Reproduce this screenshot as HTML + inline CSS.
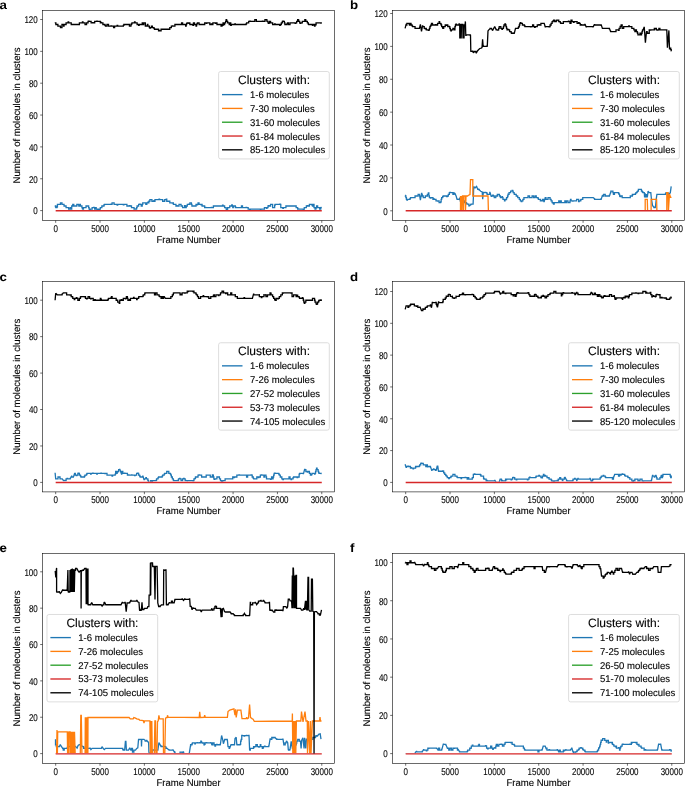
<!DOCTYPE html>
<html><head><meta charset="utf-8"><style>
html,body{margin:0;padding:0;background:#fff;}
svg{display:block;}
text{font-family:"Liberation Sans", sans-serif;fill:#000;filter:grayscale(1);text-rendering:geometricPrecision;stroke:#000;stroke-width:0.12px;stroke-linejoin:round;}
text.tk{stroke-width:0.1px;}
text.pl{stroke-width:0;}
</style></head><body>
<svg width="685" height="786" viewBox="0 0 685 786">
<rect x="0" y="0" width="685" height="786" fill="#fff"/>
<g><clipPath id="clipa"><rect x="42.48" y="10.55" width="292.02" height="199.53"/></clipPath><g clip-path="url(#clipa)"><polyline points="55.1,207.3 55.38,207.3 55.38,206.02 55.9,206.02 55.9,207.62 56.95,207.62 56.95,206.79 57.2,206.79 57.45,206.79 57.45,204.43 60.45,204.43 60.45,202.84 60.95,202.84 60.95,203.2 61.2,203.2 61.46,203.2 61.46,202.84 61.98,202.84 61.98,204.43 64.03,204.43 64.03,206.02 65.05,206.02 65.05,206.2 65.3,206.2 65.56,206.2 65.56,206.02 66.08,206.02 66.08,207.62 68.64,207.62 68.64,209.21 69.15,209.21 69.15,208.9 69.4,208.9 69.67,208.9 69.67,209.21 70.18,209.21 70.18,207.62 70.7,207.62 70.7,209.21 71.73,209.21 71.73,206.02 72.25,206.02 72.25,206.2 72.5,206.2 72.76,206.2 72.76,204.43 73.78,204.43 73.78,206.02 76.82,206.02 76.82,204.43 78.35,204.43 78.35,204.8 78.6,204.8 78.86,204.8 78.86,206.02 79.89,206.02 79.89,204.43 80.4,204.43 80.4,206.02 81.94,206.02 81.94,207.62 82.45,207.62 82.45,208.9 82.7,208.9 82.96,208.9 82.96,209.21 83.47,209.21 83.47,207.62 86.04,207.62 86.04,206.02 86.55,206.02 86.55,206.2 86.8,206.2 87.07,206.2 87.07,206.02 88.62,206.02 88.62,207.62 89.13,207.62 89.13,209.21 89.65,209.21 89.65,209.7 89.9,209.7 90.15,209.7 90.15,209.21 92.15,209.21 92.15,207.62 93.65,207.62 93.65,207.3 93.9,207.3 94.16,207.3 94.16,207.62 94.67,207.62 94.67,209.21 95.69,209.21 95.69,207.62 96.2,207.62 96.2,209.21 97.22,209.21 97.22,210.8 98.24,210.8 98.24,209.21 98.75,209.21 98.75,209.7 99,209.7 99.27,209.7 99.27,209.21 100.31,209.21 100.31,207.62 101.87,207.62 101.87,206.02 103.95,206.02 103.95,204.8 104.2,204.8 104.46,204.8 104.46,204.43 111.05,204.43 111.05,204.2 111.3,204.2 111.56,204.2 111.56,204.43 112.07,204.43 112.07,202.84 114.1,202.84 114.1,204.43 117.15,204.43 117.15,205.2 117.4,205.2 117.67,205.2 117.67,204.43 123.35,204.43 123.35,204.8 123.6,204.8 123.86,204.8 123.86,204.43 126.91,204.43 126.91,206.02 129.45,206.02 129.45,205.6 129.7,205.6 129.96,205.6 129.96,206.02 131.49,206.02 131.49,207.62 134.04,207.62 134.04,209.21 134.55,209.21 134.55,208.9 134.8,208.9 135.06,208.9 135.06,209.21 136.59,209.21 136.59,207.62 137.1,207.62 137.1,206.02 138.63,206.02 138.63,204.43 139.65,204.43 139.65,204.2 139.9,204.2 140.16,204.2 140.16,204.43 141.19,204.43 141.19,206.02 142.21,206.02 142.21,204.43 142.72,204.43 142.72,202.84 145.8,202.84 145.8,204.43 146.82,204.43 146.82,202.84 147.85,202.84 147.85,202.2 148.1,202.2 148.36,202.2 148.36,202.84 148.87,202.84 148.87,201.25 149.88,201.25 149.88,199.65 151.92,199.65 151.92,201.25 153.95,201.25 153.95,200.7 154.2,200.7 154.46,200.7 154.46,201.25 154.97,201.25 154.97,199.65 159.05,199.65 159.05,199.1 159.3,199.1 159.56,199.1 159.56,199.65 162.65,199.65 162.65,201.25 164.71,201.25 164.71,199.65 166.25,199.65 166.25,199.11 166.5,199.11 166.76,199.11 166.76,201.25 169.81,201.25 169.81,202.84 172.35,202.84 172.35,203.2 172.6,203.2 172.86,203.2 172.86,202.84 173.38,202.84 173.38,204.43 175.94,204.43 175.94,206.02 176.45,206.02 176.45,205.6 176.7,205.6 176.96,205.6 176.96,206.02 179.01,206.02 179.01,204.43 181.06,204.43 181.06,206.02 182.6,206.02 182.6,207.62 184.65,207.62 184.65,205.6 184.9,205.6 185.18,205.6 185.18,207.62 186.22,207.62 186.22,206.02 187.28,206.02 187.28,204.43 188.85,204.43 188.85,204.2 189.1,204.2 189.36,204.2 189.36,204.43 189.88,204.43 189.88,202.84 191.41,202.84 191.41,204.43 191.92,204.43 191.92,206.02 192.95,206.02 192.95,206.2 193.2,206.2 193.46,206.2 193.46,206.02 196.03,206.02 196.03,204.43 197.05,204.43 197.05,204.8 197.3,204.8 197.55,204.8 197.55,204.43 198.05,204.43 198.05,202.84 199.05,202.84 199.05,204.43 201.05,204.43 201.05,204.8 201.3,204.8 201.56,204.8 201.56,204.43 202.08,204.43 202.08,206.02 204.64,206.02 204.64,207.62 205.15,207.62 205.15,207.3 205.4,207.3 205.67,207.3 205.67,207.62 211.35,207.62 211.35,207.3 211.6,207.3 211.86,207.3 211.86,207.62 213.4,207.62 213.4,206.02 215.45,206.02 215.45,206.2 215.7,206.2 215.96,206.2 215.96,206.02 222.55,206.02 222.55,205.2 222.8,205.2 223.06,205.2 223.06,206.02 224.6,206.02 224.6,207.62 226.14,207.62 226.14,209.21 226.65,209.21 226.65,209.3 226.9,209.3 227.16,209.3 227.16,209.21 227.67,209.21 227.67,207.62 229.71,207.62 229.71,206.02 231.75,206.02 231.75,204.8 232,204.8 232.26,204.8 232.26,206.02 232.78,206.02 232.78,207.62 233.29,207.62 233.29,206.02 235.34,206.02 235.34,207.62 235.85,207.62 235.85,207.3 236.1,207.3 236.36,207.3 236.36,207.62 241.46,207.62 241.46,206.02 242.48,206.02 242.48,207.62 246.05,207.62 246.05,207.3 246.3,207.3 246.58,207.3 246.58,207.62 248.16,207.62 248.16,209.21 249.75,209.21 249.75,209.3 250,209.3 250.25,209.3 250.25,209.21 260.35,209.21 260.35,209.3 260.6,209.3 260.86,209.3 260.86,209.21 264.42,209.21 264.42,207.62 266.45,207.62 266.45,208.3 266.7,208.3 266.98,208.3 266.98,207.62 268.02,207.62 268.02,206.02 268.55,206.02 268.55,205.6 268.8,205.6 269.06,205.6 269.06,206.02 270.58,206.02 270.58,204.43 272.62,204.43 272.62,207.62 274.65,207.62 274.65,205.2 274.9,205.2 275.16,205.2 275.16,204.43 279.75,204.43 279.75,204.2 280,204.2 280.27,204.2 280.27,204.43 280.78,204.43 280.78,207.62 282.85,207.62 282.85,208.3 283.1,208.3 283.36,208.3 283.36,207.62 285.93,207.62 285.93,206.02 286.95,206.02 286.95,206.2 287.2,206.2 287.46,206.2 287.46,206.02 295.15,206.02 295.15,206.2 295.4,206.2 295.65,206.2 295.65,206.02 296.15,206.02 296.15,207.62 297.65,207.62 297.65,209.21 298.15,209.21 298.15,208.9 298.4,208.9 298.66,208.9 298.66,209.21 303.25,209.21 303.25,209.3 303.5,209.3 303.76,209.3 303.76,209.21 304.27,209.21 304.27,207.62 306.33,207.62 306.33,206.02 307.35,206.02 307.35,205.6 307.6,205.6 307.86,205.6 307.86,206.02 309.4,206.02 309.4,204.43 311.45,204.43 311.45,204.8 311.7,204.8 311.96,204.8 311.96,204.43 312.48,204.43 312.48,206.02 312.99,206.02 312.99,204.43 314.01,204.43 314.01,207.62 315.04,207.62 315.04,209.21 315.55,209.21 315.55,208.89 315.8,208.89 316.07,208.89 316.07,207.62 316.59,207.62 316.59,206.02 317.62,206.02 317.62,207.62 319.7,207.62 319.7,209.21 320.73,209.21 320.73,207.62 321.25,207.62 321.25,207.3 321.5,207.3" fill="none" stroke="#1f77b4" stroke-width="1.3" stroke-linejoin="miter" stroke-miterlimit="2" stroke-linecap="butt"/></g><polyline points="55.68,210.8 321.78,210.8" fill="none" stroke="#d62728" stroke-width="1.45" stroke-linejoin="miter" stroke-miterlimit="2" stroke-linecap="butt"/><polyline points="55.1,23.3 55.36,23.3 55.36,22.89 55.87,22.89 55.87,24.48 57.9,24.48 57.9,26.07 60.44,26.07 60.44,27.66 60.95,27.66 60.95,27.4 61.2,27.4 61.46,27.4 61.46,27.66 61.98,27.66 61.98,24.48 63.52,24.48 63.52,26.07 64.04,26.07 64.04,24.48 66.09,24.48 66.09,22.89 68.15,22.89 68.15,21.9 68.4,21.9 68.66,21.9 68.66,22.89 71.22,22.89 71.22,24.48 72.25,24.48 72.25,24.3 72.5,24.3 72.76,24.3 72.76,24.48 77.35,24.48 77.35,24.7 77.6,24.7 77.86,24.7 77.86,24.48 79.39,24.48 79.39,22.89 82.45,22.89 82.45,21.9 82.7,21.9 82.97,21.9 82.97,22.89 85.03,22.89 85.03,24.48 85.55,24.48 85.55,24.3 85.8,24.3 86.05,24.3 86.05,24.48 86.55,24.48 86.55,22.89 88.05,22.89 88.05,21.29 88.55,21.29 88.55,21.2 88.8,21.2 89.06,21.2 89.06,21.29 91.11,21.29 91.11,22.89 92.65,22.89 92.65,22.7 92.9,22.7 93.16,22.7 93.16,22.89 94.7,22.89 94.7,21.29 96.75,21.29 96.75,21.2 97,21.2 97.26,21.2 97.26,21.29 100.34,21.29 100.34,22.89 100.85,22.89 100.85,22.3 101.1,22.3 101.36,22.3 101.36,22.89 102.9,22.89 102.9,24.48 104.95,24.48 104.95,25.3 105.2,25.3 105.46,25.3 105.46,26.07 106.98,26.07 106.98,24.48 108.51,24.48 108.51,26.07 111.05,26.07 111.05,25.9 111.3,25.9 111.56,25.9 111.56,26.07 113.59,26.07 113.59,27.66 114.61,27.66 114.61,26.07 117.15,26.07 117.15,25.3 117.4,25.3 117.67,25.3 117.67,26.07 123.35,26.07 123.35,25.3 123.6,25.3 123.86,25.3 123.86,24.48 129.42,24.48 129.42,26.07 130.94,26.07 130.94,24.48 131.45,24.48 131.45,23.9 131.7,23.9 131.97,23.9 131.97,22.89 134.55,22.89 134.55,21.9 134.8,21.9 135.06,21.9 135.06,22.89 137.11,22.89 137.11,24.48 138.65,24.48 138.65,25.3 138.9,25.3 139.16,25.3 139.16,24.48 142.24,24.48 142.24,22.89 142.75,22.89 142.75,23.3 143,23.3 143.27,23.3 143.27,24.48 143.78,24.48 143.78,22.89 145.33,22.89 145.33,26.07 145.85,26.07 145.85,25.9 146.1,25.9 146.35,25.9 146.35,26.07 147.35,26.07 147.35,24.48 147.85,24.48 147.85,26.07 149.35,26.07 149.35,27.66 149.85,27.66 149.85,28 150.1,28 150.36,28 150.36,27.66 151.39,27.66 151.39,26.07 152.41,26.07 152.41,27.66 153.95,27.66 153.95,28.4 154.2,28.4 154.46,28.4 154.46,29.25 158.54,29.25 158.54,30.85 159.05,30.85 159.05,30.4 159.3,30.4 159.56,30.4 159.56,30.85 161.09,30.85 161.09,29.25 164.15,29.25 164.15,29.4 164.4,29.4 164.66,29.4 164.66,29.25 168.25,29.25 168.25,29.4 168.5,29.4 168.76,29.4 168.76,29.25 169.79,29.25 169.79,27.66 171.32,27.66 171.32,26.07 172.35,26.07 172.35,25.9 172.6,25.9 172.86,25.9 172.86,26.07 174.91,26.07 174.91,24.48 176.45,24.48 176.45,24.7 176.7,24.7 176.96,24.7 176.96,24.48 181.57,24.48 181.57,22.89 182.6,22.89 182.6,24.48 184.65,24.48 184.65,24.7 184.9,24.7 185.15,24.7 185.15,24.48 185.65,24.48 185.65,26.07 186.15,26.07 186.15,24.48 186.65,24.48 186.65,23.3 186.9,23.3 187.2,23.3 187.2,22.89 188.85,22.89 188.85,23.3 189.1,23.3 189.36,23.3 189.36,22.89 189.88,22.89 189.88,24.48 192.95,24.48 192.95,25.3 193.2,25.3 193.46,25.3 193.46,22.89 194.49,22.89 194.49,24.48 196.03,24.48 196.03,26.07 196.54,26.07 196.54,24.48 197.05,24.48 197.05,23.3 197.3,23.3 197.56,23.3 197.56,22.89 199.09,22.89 199.09,24.48 202.15,24.48 202.15,24.3 202.4,24.3 202.66,24.3 202.66,24.48 204.71,24.48 204.71,22.89 206.25,22.89 206.25,23.3 206.5,23.3 206.76,23.3 206.76,22.89 209.82,22.89 209.82,24.48 211.35,24.48 211.35,23.9 211.6,23.9 211.86,23.9 211.86,24.48 212.89,24.48 212.89,22.89 215.45,22.89 215.45,23.3 215.7,23.3 215.96,23.3 215.96,22.89 216.97,22.89 216.97,24.48 221.03,24.48 221.03,26.07 222.04,26.07 222.04,24.48 222.55,24.48 222.55,25.3 222.8,25.3 223.06,25.3 223.06,22.89 224.09,22.89 224.09,24.48 224.6,24.48 224.6,22.89 225.62,22.89 225.62,21.29 226.14,21.29 226.14,19.7 226.65,19.7 226.65,21.2 226.9,21.2 227.16,21.2 227.16,21.29 227.68,21.29 227.68,22.89 229.21,22.89 229.21,24.48 229.72,24.48 229.72,22.89 230.75,22.89 230.75,25.3 231,25.3 231.26,25.3 231.26,24.48 234.85,24.48 234.85,23.9 235.1,23.9 235.36,23.9 235.36,24.48 246.05,24.48 246.05,23.9 246.3,23.9 246.58,23.9 246.58,22.89 248.69,22.89 248.69,21.29 249.75,21.29 249.75,21.2 250,21.2 250.26,21.2 250.26,21.29 254.83,21.29 254.83,19.7 256.35,19.7 256.35,21.29 262.45,21.29 262.45,21.2 262.7,21.2 262.95,21.2 262.95,21.29 264.95,21.29 264.95,19.7 266.45,19.7 266.45,19.8 266.7,19.8 266.98,19.8 266.98,21.29 268.02,21.29 268.02,22.89 268.55,22.89 268.55,23.3 268.8,23.3 269.06,23.3 269.06,22.89 269.57,22.89 269.57,21.29 270.58,21.29 270.58,22.89 272.62,22.89 272.62,24.48 274.65,24.48 274.65,23.9 274.9,23.9 275.16,23.9 275.16,24.48 279.75,24.48 279.75,25.3 280,25.3 280.27,25.3 280.27,24.48 281.3,24.48 281.3,22.89 282.33,22.89 282.33,21.29 282.85,21.29 282.85,21.2 283.1,21.2 283.36,21.2 283.36,21.29 284.39,21.29 284.39,22.89 284.9,22.89 284.9,24.48 286.95,24.48 286.95,23.9 287.2,23.9 287.46,23.9 287.46,22.89 288.49,22.89 288.49,24.48 290.02,24.48 290.02,22.89 295.15,22.89 295.15,23.3 295.4,23.3 295.65,23.3 295.65,22.89 296.65,22.89 296.65,21.29 297.65,21.29 297.65,19.7 298.15,19.7 298.15,19.8 298.4,19.8 298.67,19.8 298.67,21.29 299.73,21.29 299.73,22.89 300.25,22.89 300.25,23.3 300.5,23.3 300.76,23.3 300.76,22.89 302.29,22.89 302.29,21.29 304.84,21.29 304.84,19.7 305.35,19.7 305.35,19.8 305.6,19.8 305.85,19.8 305.85,21.29 307.35,21.29 307.35,22.89 308.35,22.89 308.35,24.3 308.6,24.3 308.86,24.3 308.86,24.48 312.45,24.48 312.45,25.3 312.7,25.3 312.97,25.3 312.97,24.48 314.52,24.48 314.52,26.07 315.03,26.07 315.03,24.48 315.55,24.48 315.55,24.89 315.8,24.89 316.07,24.89 316.07,22.89 321.25,22.89 321.25,23.3 321.5,23.3" fill="none" stroke="#000000" stroke-width="1.3" stroke-linejoin="miter" stroke-miterlimit="2" stroke-linecap="butt"/><rect x="42.48" y="10.55" width="292.02" height="209.95" fill="none" stroke="#000000" stroke-width="0.58"/><line x1="40.18" y1="210.6" x2="42.48" y2="210.6" stroke="#000000" stroke-width="0.58"/><text class="tk" x="33.33" y="214.4" font-size="9.8" textLength="4.45" lengthAdjust="spacingAndGlyphs">0</text><line x1="40.18" y1="178.75" x2="42.48" y2="178.75" stroke="#000000" stroke-width="0.58"/><text class="tk" x="28.88" y="182.55" font-size="9.8" textLength="8.9" lengthAdjust="spacingAndGlyphs">20</text><line x1="40.18" y1="146.9" x2="42.48" y2="146.9" stroke="#000000" stroke-width="0.58"/><text class="tk" x="28.88" y="150.7" font-size="9.8" textLength="8.9" lengthAdjust="spacingAndGlyphs">40</text><line x1="40.18" y1="115.05" x2="42.48" y2="115.05" stroke="#000000" stroke-width="0.58"/><text class="tk" x="28.88" y="118.85" font-size="9.8" textLength="8.9" lengthAdjust="spacingAndGlyphs">60</text><line x1="40.18" y1="83.2" x2="42.48" y2="83.2" stroke="#000000" stroke-width="0.58"/><text class="tk" x="28.88" y="87" font-size="9.8" textLength="8.9" lengthAdjust="spacingAndGlyphs">80</text><line x1="40.18" y1="51.35" x2="42.48" y2="51.35" stroke="#000000" stroke-width="0.58"/><text class="tk" x="24.43" y="55.15" font-size="9.8" textLength="13.35" lengthAdjust="spacingAndGlyphs">100</text><line x1="40.18" y1="19.5" x2="42.48" y2="19.5" stroke="#000000" stroke-width="0.58"/><text class="tk" x="24.43" y="23.3" font-size="9.8" textLength="13.35" lengthAdjust="spacingAndGlyphs">120</text><line x1="55.68" y1="220.5" x2="55.68" y2="222.8" stroke="#000000" stroke-width="0.58"/><text class="tk" x="53.45" y="232.05" font-size="9.8" textLength="4.45" lengthAdjust="spacingAndGlyphs">0</text><line x1="100.03" y1="220.5" x2="100.03" y2="222.8" stroke="#000000" stroke-width="0.58"/><text class="tk" x="91.13" y="232.05" font-size="9.8" textLength="17.8" lengthAdjust="spacingAndGlyphs">5000</text><line x1="144.38" y1="220.5" x2="144.38" y2="222.8" stroke="#000000" stroke-width="0.58"/><text class="tk" x="133.25" y="232.05" font-size="9.8" textLength="22.25" lengthAdjust="spacingAndGlyphs">10000</text><line x1="188.73" y1="220.5" x2="188.73" y2="222.8" stroke="#000000" stroke-width="0.58"/><text class="tk" x="177.61" y="232.05" font-size="9.8" textLength="22.25" lengthAdjust="spacingAndGlyphs">15000</text><line x1="233.08" y1="220.5" x2="233.08" y2="222.8" stroke="#000000" stroke-width="0.58"/><text class="tk" x="221.96" y="232.05" font-size="9.8" textLength="22.25" lengthAdjust="spacingAndGlyphs">20000</text><line x1="277.43" y1="220.5" x2="277.43" y2="222.8" stroke="#000000" stroke-width="0.58"/><text class="tk" x="266.31" y="232.05" font-size="9.8" textLength="22.25" lengthAdjust="spacingAndGlyphs">25000</text><line x1="321.78" y1="220.5" x2="321.78" y2="222.8" stroke="#000000" stroke-width="0.58"/><text class="tk" x="310.66" y="232.05" font-size="9.8" textLength="22.25" lengthAdjust="spacingAndGlyphs">30000</text><text text-anchor="middle" transform="translate(188.49,242.8) scale(0.975,1)" font-size="9.8">Frame Number</text><text text-anchor="middle" transform="translate(19.88,115.53) rotate(-90) scale(0.975,1)" font-size="9.8">Number of molecules in clusters</text><text class="pl" transform="translate(-0.6,9.25) scale(1.1,1)" font-size="12.1" font-weight="bold">a</text><rect x="218.6" y="71.53" width="110.7" height="87.4" rx="2" ry="2" fill="#ffffff" fill-opacity="0.8" stroke="#d4d4d4" stroke-width="0.8"/><text text-anchor="middle" transform="translate(274.05,83.93) scale(0.985,1)" font-size="12.2">Clusters with:</text><line x1="222" y1="94.62" x2="242.5" y2="94.62" stroke="#1f77b4" stroke-width="1.35"/><text transform="translate(249.9,98.12) scale(0.975,1)" font-size="9.8">1-6 molecules</text><line x1="222" y1="108.42" x2="242.5" y2="108.42" stroke="#ff7f0e" stroke-width="1.35"/><text transform="translate(249.9,111.92) scale(0.975,1)" font-size="9.8">7-30 molecules</text><line x1="222" y1="122.22" x2="242.5" y2="122.22" stroke="#2ca02c" stroke-width="1.35"/><text transform="translate(249.9,125.72) scale(0.975,1)" font-size="9.8">31-60 molecules</text><line x1="222" y1="136.03" x2="242.5" y2="136.03" stroke="#d62728" stroke-width="1.35"/><text transform="translate(249.9,139.53) scale(0.975,1)" font-size="9.8">61-84 molecules</text><line x1="222" y1="149.82" x2="242.5" y2="149.82" stroke="#000000" stroke-width="1.35"/><text transform="translate(249.9,153.32) scale(0.975,1)" font-size="9.8">85-120 molecules</text></g><g><clipPath id="clipb"><rect x="392.48" y="10.55" width="292.02" height="199.53"/></clipPath><g clip-path="url(#clipb)"><polyline points="405.1,195.5 405.38,195.5 405.38,196 405.9,196 405.9,197.65 406.43,197.65 406.43,199.29 406.95,199.29 406.95,200.2 407.2,200.2 407.45,200.2 407.45,199.29 409.95,199.29 409.95,198.6 410.2,198.6 410.47,198.6 410.47,197.65 413.3,197.6 415.05,197.65 415.05,196 416.05,196 416.05,196.2 416.3,196.2 416.57,196.2 416.57,196 418.12,196 418.12,194.36 419.15,194.36 419.15,194.5 419.4,194.5 420.4,200.2 421.5,193.5 421.75,193.5 421.75,194.36 422.25,194.36 422.25,196 423.25,196 423.25,197.6 423.5,197.6 425.32,197.65 425.32,196 426.35,196 426.35,196.2 426.6,196.2 426.85,196.2 426.85,196 427.35,196 427.35,194.36 428.35,194.36 428.35,192.9 428.6,192.9 428.88,192.9 428.88,196 429.4,196 429.4,197.65 430.45,197.65 430.45,198.2 430.7,198.2 430.95,198.2 430.95,197.65 432.95,197.65 432.95,199.29 433.45,199.29 433.45,198.6 433.7,198.6 433.96,198.6 433.96,199.29 436.01,199.29 436.01,200.94 437.55,200.94 437.55,201.1 437.8,201.1 438.07,201.1 438.07,200.94 439.1,200.94 439.1,202.58 440.65,202.58 440.65,201.84 440.9,201.84 441.15,201.84 441.15,199.29 441.65,199.29 441.65,197.65 442.65,197.65 442.65,196.6 442.9,196.6 443.16,196.6 443.16,196 446.75,196 446.75,196.6 447,196.6 447.27,196.6 447.27,196 448.3,196 448.3,194.36 449.33,194.36 449.33,192.71 449.85,192.71 449.85,192.5 450.1,192.5 450.36,192.5 450.36,192.71 452.93,192.71 452.93,194.36 453.95,194.36 453.95,192.9 454.2,192.9 455,193.4 456.2,196.3 457,199.2 457.23,199.2 457.23,199.29 459.15,199.29 459.15,199.2 459.4,199.2 459.7,197.7 460.3,201 460.55,201 460.55,200.94 463.55,200.94 463.55,201 463.8,201 464.03,201 464.03,200.94 464.52,200.94 464.52,202.58 466.45,202.58 466.45,203.3 466.7,203.3 466.93,203.3 466.93,204.22 468.87,204.22 468.87,205.87 469.6,205.9 470.8,204.5 471.01,204.5 471.01,204.22 473.1,204.2 473.4,196.9 473.7,186.9 474.02,186.9 474.02,187.78 475.15,187.78 475.15,187.5 475.4,187.5 476.6,186.4 477.5,188.7 477.75,188.7 477.75,189.43 479.25,189.43 479.25,190.1 479.5,190.1 480.7,191.3 482.2,191.9 482.7,199.2 483.3,192.5 483.57,192.5 483.57,192.71 485.15,192.71 485.15,192.5 485.4,192.5 485.72,192.5 485.72,192.71 486.85,192.71 486.85,193.9 487.1,193.9 487.33,193.9 487.33,194.36 489.75,194.36 489.75,192.5 490,192.5 491.2,196.3 491.4,196.3 491.4,196 492.75,196 492.75,195.1 493,195.1 493.25,195.1 493.25,196 494.25,196 494.25,197.65 494.75,197.65 494.75,197.4 495,197.4 495.27,197.4 495.27,197.65 495.78,197.65 495.78,196 497.33,196 497.33,194.36 497.85,194.36 497.85,194.5 498.1,194.5 498.36,194.5 498.36,194.36 499.39,194.36 499.39,196 500.41,196 500.41,197.65 501.95,197.65 501.95,196.6 502.2,196.6 502.46,196.6 502.46,197.65 502.98,197.65 502.98,199.29 504.51,199.29 504.51,200.94 505.02,200.94 505.02,199.29 506.05,199.29 506.05,199.6 506.3,199.6 506.55,199.6 506.55,197.65 507.55,197.65 507.55,196 508.05,196 508.05,194.1 508.3,194.1 508.56,194.1 508.56,194.36 509.07,194.36 509.07,192.71 510.61,192.71 510.61,191.07 512.15,191.07 512.15,190.4 512.4,190.4 512.65,190.4 512.65,191.07 513.15,191.07 513.15,192.71 514.15,192.71 514.15,194.1 514.4,194.1 514.67,194.1 514.67,194.36 516.22,194.36 516.22,196 517.25,196 517.25,196.2 517.5,196.2 517.76,196.2 517.76,197.65 519.3,197.65 519.3,199.29 520.33,199.29 520.33,200.94 521.35,200.94 521.35,201.7 521.6,201.7 521.87,201.7 521.87,200.94 522.9,200.94 522.9,199.29 523.93,199.29 523.93,197.65 524.7,197.6 528.01,197.65 528.01,196 529.53,196 529.53,197.65 530.8,197.6 532.09,197.65 532.09,196 533.62,196 533.62,197.65 534.65,197.65 534.65,197.14 534.9,197.14 535.18,197.14 535.18,196 536.25,196 536.25,197.65 537.85,197.65 537.85,198.2 538.1,198.2 538.35,198.2 538.35,199.29 540.35,199.29 540.35,200.94 540.85,200.94 540.85,200.7 541.1,200.7 541.37,200.7 541.37,200.94 542.4,200.94 542.4,199.29 543.43,199.29 543.43,200.94 543.95,200.94 543.95,201.7 544.2,201.7 545.2,197.6 545.98,197.65 545.98,199.29 548.02,199.29 548.02,197.65 549.3,197.6 550.07,197.65 550.07,199.29 551.1,199.29 551.1,200.94 552.12,200.94 552.12,202.58 553.15,202.58 553.15,203.7 553.4,203.7 553.67,203.7 553.67,204.22 554.18,204.22 554.18,202.58 556.25,202.58 556.25,202.7 556.5,202.7 556.75,202.7 556.75,202.58 558.75,202.58 558.75,200.94 559.75,200.94 559.75,202.58 560.25,202.58 560.25,201.7 560.5,201.7 560.76,201.7 560.76,200.94 561.27,200.94 561.27,202.58 564.86,202.58 564.86,200.94 565.89,200.94 565.89,202.58 566.4,202.58 566.4,200.94 567.94,200.94 567.94,202.58 568.45,202.58 568.45,202.3 568.7,202.3 568.96,202.3 568.96,202.58 569.99,202.58 569.99,200.94 570.5,200.94 570.5,199.29 571.01,199.29 571.01,200.94 572.55,200.94 572.55,201.1 572.8,201.1 573.06,201.1 573.06,200.94 576.62,200.94 576.62,199.29 578.65,199.29 578.65,201.7 578.9,201.7 579.17,201.7 579.17,200.94 580.75,200.94 580.75,199.6 581,199.6 581.25,199.6 581.25,199.29 582.75,199.29 582.75,197.65 584,197.6 593.2,197.6 594.3,198.6 594.56,198.6 594.56,199.29 601.15,199.29 601.15,198.6 601.4,198.6 602.4,195.5 602.66,195.5 602.66,196 603.69,196 603.69,194.36 605.24,194.36 605.24,196 609.35,196 609.35,195.5 609.6,195.5 610.6,192.5 610.86,192.5 610.86,191.07 612.91,191.07 612.91,192.71 613.42,192.71 613.42,194.36 614.45,194.36 614.45,192.71 618.55,192.71 618.55,193.5 618.8,193.5 619.08,193.5 619.08,194.36 619.62,194.36 619.62,196 620.15,196 620.15,196.6 620.4,196.6 620.66,196.6 620.66,196 622.17,196 622.17,197.65 629,197.6 630.29,197.65 630.29,196 632.34,196 632.34,194.36 632.85,194.36 632.85,194.5 633.1,194.5 633.35,194.5 633.35,194.36 635.35,194.36 635.35,193.7 635.6,193.7 635.92,193.7 635.92,192.71 637.05,192.71 637.05,191.7 637.3,191.7 637.5,191.7 637.5,191.07 638.4,191.07 638.4,189.43 638.85,189.43 638.85,189.3 639.1,189.3 639.42,189.3 639.42,189.43 640.55,189.43 640.55,189.3 640.8,189.3 641,189.3 641,189.43 641.45,189.43 641.45,191.07 642.35,191.07 642.35,192 642.6,192 642.92,192 642.92,192.71 644.05,192.71 644.05,192.6 644.3,192.6 644.6,197.5 645.2,193.4 646.1,197.5 646.7,194 647.3,197.5 648.1,191.1 648.7,192.3 648.98,192.3 648.98,192.71 650.55,192.71 650.55,192.6 650.8,192.6 651.4,198.7 652.5,205.4 653.7,207.2 654.02,207.2 654.02,207.51 655.15,207.51 655.15,207.2 655.4,207.2 656.3,198.7 656.9,194.3 657.14,194.3 657.14,194.36 665.45,194.36 665.45,194 665.7,194 666,192.6 666.25,192.6 666.25,192.71 667.75,192.71 667.75,193.1 668,193.1 668.3,195.5 669.2,193.7 670.3,192.8 671.2,186.4" fill="none" stroke="#1f77b4" stroke-width="1.3" stroke-linejoin="miter" stroke-miterlimit="2" stroke-linecap="butt"/><polyline points="405.5,210.8 460.5,210.8 460.5,196 461,210.8 461.5,196 462,210.8 462.5,196 463.5,196 463.5,210.8 464,196 465.5,196 465.5,210.8 466,196 467.5,196 468.5,195.3 470,194.5 470.5,179.6 472.8,179.6 472.8,196 488,196 488.4,210.8 645.2,210.8 645.2,199.3 647.3,199.3 647.6,210.8 651.1,210.8 651.1,199.3 656.6,199.3 656.9,210.8 666.8,210.8 666.8,192.6 668,192.6 668.4,210.8 669.5,194 670.5,197.3 671.5,197.3" fill="none" stroke="#ff7f0e" stroke-width="1.3" stroke-linejoin="miter" stroke-miterlimit="2" stroke-linecap="butt"/></g><polyline points="405.68,210.8 671.78,210.8" fill="none" stroke="#d62728" stroke-width="1.45" stroke-linejoin="miter" stroke-miterlimit="2" stroke-linecap="butt"/><polyline points="405.1,28.4 406.1,24.3 406.37,24.3 406.37,25.01 406.88,25.01 406.88,23.37 408.95,23.37 408.95,23.9 409.2,23.9 409.47,23.9 409.47,25.01 409.98,25.01 409.98,23.36 411.02,23.36 411.02,25.01 412.05,25.01 412.05,25.9 412.3,25.9 412.55,25.9 412.55,26.65 415.05,26.65 415.05,28.3 416.05,28.3 416.05,28.4 416.3,28.4 416.57,28.4 416.57,28.3 419.15,28.3 419.15,28.4 419.4,28.4 420.4,24.3 421.5,31.5 422.5,25.9 422.75,25.9 422.75,26.65 424.25,26.65 424.25,28.3 425.25,28.3 425.25,28.8 425.5,28.8 425.77,28.8 425.77,28.3 426.28,28.3 426.28,29.94 428.35,29.94 428.35,30.4 428.6,30.4 428.88,30.4 428.88,29.94 429.4,29.94 429.4,28.3 429.93,28.3 429.93,26.65 430.45,26.65 430.45,25.9 430.7,25.9 430.96,25.9 430.96,25.01 431.47,25.01 431.47,23.36 432.49,23.36 432.49,25.01 435.55,25.01 435.55,24.7 435.8,24.7 436.06,24.7 436.06,25.01 437.59,25.01 437.59,23.36 439.12,23.36 439.12,21.72 439.63,21.72 439.63,23.37 440.65,23.37 440.65,23.9 440.9,23.9 441.15,23.9 441.15,25.01 441.65,25.01 441.65,26.65 442.65,26.65 442.65,28 442.9,28 443.17,28 443.17,28.3 443.68,28.3 443.68,26.65 445.23,26.65 445.23,25.01 445.75,25.01 445.75,25.3 446,25.3 446.25,25.3 446.25,25.01 447.75,25.01 447.75,26.65 448.75,26.65 448.75,26.3 449,26.3 449.27,26.3 449.27,26.65 449.8,26.65 449.8,28.3 450.33,28.3 450.33,29.94 450.85,29.94 450.85,30.8 451.1,30.8 451.37,30.8 451.37,29.94 452.92,29.94 452.92,28.3 453.95,28.3 453.95,28.76 454.2,28.76 454.45,28.76 454.45,29.94 454.95,29.94 454.95,26.65 455.45,26.65 455.45,25.01 455.95,25.01 455.95,24.26 456.2,24.26 456.47,24.26 456.47,25.01 459.05,25.01 459.05,23.9 459.3,23.9 459.7,24 459.8,38.5 460.2,24 460.5,38.5 460.9,24 461.2,38.5 461.5,24.5 462.8,24.5 463,38.5 463.5,24.5 464,38.5 464.3,25 465,25 465.4,21.4 465.8,35.4 466.07,35.4 466.07,34.87 470.25,34.87 470.25,35.4 470.5,35.4 470.8,51.2 471.05,51.2 471.05,51.32 472.55,51.32 472.55,51.2 472.8,51.2 473.3,52.9 474.1,51.9 474.3,51.9 474.3,51.32 475.65,51.32 475.65,51.9 475.9,51.9 476.3,53.3 477.2,51.2 478.5,49.8 479.8,48.5 481.2,48.1 482,47.7 482.6,39.3 483.1,45.9 483.38,45.9 483.38,46.38 487.05,46.38 487.05,45.9 487.3,45.9 488,31 488.6,30.1 489.9,28.8 490.1,28.8 490.1,28.3 491.45,28.3 491.45,28.8 491.7,28.8 492.5,30.6 493.9,28 494.7,26.6 496,29.3 496.2,29.3 496.2,29.94 497.55,29.94 497.55,30.1 497.8,30.1 498.1,30.1 498.1,29.94 498.65,29.94 498.65,28.3 499.2,28.3 499.2,26.65 499.75,26.65 499.75,26.6 500,26.6 500.3,26.6 500.3,26.65 500.85,26.65 500.85,28.3 501.95,28.3 501.95,29.4 502.2,29.4 502.45,29.4 502.45,28.3 503.45,28.3 503.45,26.65 503.95,26.65 503.95,25.01 504.95,25.01 504.95,23.9 505.2,23.9 505.47,23.9 505.47,25.01 505.98,25.01 505.98,26.65 506.5,26.65 506.5,28.3 507.02,28.3 507.02,29.94 508.05,29.94 508.05,29.4 508.3,29.4 508.57,29.4 508.57,29.94 509.6,29.94 509.6,31.59 511.15,31.59 511.15,32.9 511.4,32.9 511.65,32.9 511.65,33.23 514.15,33.23 514.15,32.9 514.4,32.9 515.5,28.4 515.75,28.4 515.75,28.3 518.25,28.3 518.25,27.4 518.5,27.4 518.77,27.4 518.77,26.65 519.3,26.65 519.3,25.01 519.83,25.01 519.83,23.37 520.35,23.37 520.35,22.7 520.6,22.7 520.86,22.7 520.86,23.37 522.4,23.37 522.4,25.01 524.45,25.01 524.45,25.9 524.7,25.9 524.96,25.9 524.96,26.65 530.55,26.65 530.55,26.8 530.8,26.8 531.06,26.8 531.06,26.65 532.6,26.65 532.6,25.01 533.62,25.01 533.62,26.65 534.65,26.65 534.65,27.4 534.9,27.4 535.17,27.4 535.17,26.65 537.27,26.65 537.27,25.01 538.85,25.01 538.85,24.7 539.1,24.7 539.36,24.7 539.36,25.01 540.89,25.01 540.89,23.37 543.95,23.37 543.95,23.3 544.2,23.3 545.2,26.8 545.46,26.8 545.46,26.65 549.05,26.65 549.05,26.8 549.3,26.8 549.56,26.8 549.56,26.65 550.07,26.65 550.07,25.01 551.1,25.01 551.1,23.37 552.12,23.37 552.12,21.72 553.15,21.72 553.15,20.6 553.4,20.6 553.67,20.6 553.67,20.08 554.7,20.08 554.7,21.72 556.25,21.72 556.25,20.6 556.5,20.6 556.75,20.6 556.75,20.08 558.75,20.08 558.75,21.72 560.25,21.72 560.25,22.7 560.5,22.7 560.76,22.7 560.76,23.37 563.33,23.36 563.33,21.72 568.45,21.72 568.45,21.2 568.7,21.2 568.96,21.2 568.96,21.72 569.98,21.72 569.98,23.36 571,23.36 571,20.08 572.02,20.08 572.02,21.72 573.55,21.72 573.55,22.3 573.8,22.3 574.06,22.3 574.06,21.72 577.12,21.72 577.12,23.37 578.65,23.37 578.65,22.7 578.9,22.7 579.17,22.7 579.17,23.37 580.23,23.37 580.23,25.01 580.75,25.01 580.75,24.7 581,24.7 581.26,24.7 581.26,25.01 584.85,25.01 584.85,24.3 585.1,24.3 586.1,26.8 586.36,26.8 586.36,26.65 592.95,26.65 592.95,26.8 593.2,26.8 594.3,24.7 594.56,24.7 594.56,25.01 601.15,25.01 601.15,25.3 601.4,25.3 602.4,28.4 602.66,28.4 602.66,28.3 609.35,28.3 609.35,28.8 609.6,28.8 610.6,31.5 610.86,31.5 610.86,31.59 615.99,31.59 615.99,29.94 618.55,29.94 618.55,30.4 618.8,30.4 619.08,30.4 619.08,28.3 620.15,28.3 620.15,26.3 620.4,26.3 620.66,26.3 620.66,26.65 621.16,26.65 621.16,25.01 622.17,25.01 622.17,28.3 623.69,28.3 623.69,26.65 628.75,26.65 628.75,25.9 629,25.9 629.26,25.9 629.26,26.65 631.83,26.65 631.83,28.3 632.85,28.3 632.85,28.4 633.1,28.4 633.36,28.4 633.36,28.3 633.88,28.3 633.88,29.94 634.9,29.94 634.9,31.59 635.93,31.59 635.93,29.94 636.44,29.94 636.44,31.59 636.95,31.59 636.95,31.86 637.2,31.86 637.45,31.86 637.45,33.23 637.95,33.23 637.95,34.87 639.2,34.9 639.98,34.87 639.98,33.23 641.02,33.23 641.02,34.87 641.53,34.87 641.53,33.23 642.05,33.23 642.05,31.5 642.3,31.5 642.55,31.5 642.55,29.94 643.55,29.94 643.55,28.3 644.05,28.3 644.05,27.4 644.3,27.4 645.4,42.7 646.4,32.5 646.66,32.5 646.66,31.59 647.17,31.59 647.17,33.23 649.23,33.23 649.23,29.94 650.25,29.94 650.25,30 650.5,30 650.76,30 650.76,29.94 654.33,29.94 654.33,28.3 655.35,28.3 655.35,28.8 655.6,28.8 655.85,28.8 655.85,28.3 656.35,28.3 656.35,29.94 657.35,29.94 657.35,30 657.6,30 657.86,30 657.86,29.94 658.88,29.94 658.88,28.3 659.91,28.3 659.91,29.94 666.55,29.94 666.55,30 666.8,30 667.4,47.8 668.9,30.4 669.5,48.8 669.75,48.8 669.75,48.03 670.75,48.03 670.75,49.67 671.25,49.67 671.25,50.9 671.5,50.9" fill="none" stroke="#000000" stroke-width="1.3" stroke-linejoin="miter" stroke-miterlimit="2" stroke-linecap="butt"/><rect x="392.48" y="10.55" width="292.02" height="209.95" fill="none" stroke="#000000" stroke-width="0.58"/><line x1="390.18" y1="210.8" x2="392.48" y2="210.8" stroke="#000000" stroke-width="0.58"/><text class="tk" x="383.33" y="214.6" font-size="9.8" textLength="4.45" lengthAdjust="spacingAndGlyphs">0</text><line x1="390.18" y1="177.92" x2="392.48" y2="177.92" stroke="#000000" stroke-width="0.58"/><text class="tk" x="378.88" y="181.72" font-size="9.8" textLength="8.9" lengthAdjust="spacingAndGlyphs">20</text><line x1="390.18" y1="145.03" x2="392.48" y2="145.03" stroke="#000000" stroke-width="0.58"/><text class="tk" x="378.88" y="148.83" font-size="9.8" textLength="8.9" lengthAdjust="spacingAndGlyphs">40</text><line x1="390.18" y1="112.15" x2="392.48" y2="112.15" stroke="#000000" stroke-width="0.58"/><text class="tk" x="378.88" y="115.95" font-size="9.8" textLength="8.9" lengthAdjust="spacingAndGlyphs">60</text><line x1="390.18" y1="79.27" x2="392.48" y2="79.27" stroke="#000000" stroke-width="0.58"/><text class="tk" x="378.88" y="83.07" font-size="9.8" textLength="8.9" lengthAdjust="spacingAndGlyphs">80</text><line x1="390.18" y1="46.38" x2="392.48" y2="46.38" stroke="#000000" stroke-width="0.58"/><text class="tk" x="374.43" y="50.18" font-size="9.8" textLength="13.35" lengthAdjust="spacingAndGlyphs">100</text><line x1="390.18" y1="13.5" x2="392.48" y2="13.5" stroke="#000000" stroke-width="0.58"/><text class="tk" x="374.43" y="17.3" font-size="9.8" textLength="13.35" lengthAdjust="spacingAndGlyphs">120</text><line x1="405.68" y1="220.5" x2="405.68" y2="222.8" stroke="#000000" stroke-width="0.58"/><text class="tk" x="403.45" y="232.05" font-size="9.8" textLength="4.45" lengthAdjust="spacingAndGlyphs">0</text><line x1="450.03" y1="220.5" x2="450.03" y2="222.8" stroke="#000000" stroke-width="0.58"/><text class="tk" x="441.13" y="232.05" font-size="9.8" textLength="17.8" lengthAdjust="spacingAndGlyphs">5000</text><line x1="494.38" y1="220.5" x2="494.38" y2="222.8" stroke="#000000" stroke-width="0.58"/><text class="tk" x="483.25" y="232.05" font-size="9.8" textLength="22.25" lengthAdjust="spacingAndGlyphs">10000</text><line x1="538.73" y1="220.5" x2="538.73" y2="222.8" stroke="#000000" stroke-width="0.58"/><text class="tk" x="527.61" y="232.05" font-size="9.8" textLength="22.25" lengthAdjust="spacingAndGlyphs">15000</text><line x1="583.08" y1="220.5" x2="583.08" y2="222.8" stroke="#000000" stroke-width="0.58"/><text class="tk" x="571.96" y="232.05" font-size="9.8" textLength="22.25" lengthAdjust="spacingAndGlyphs">20000</text><line x1="627.43" y1="220.5" x2="627.43" y2="222.8" stroke="#000000" stroke-width="0.58"/><text class="tk" x="616.31" y="232.05" font-size="9.8" textLength="22.25" lengthAdjust="spacingAndGlyphs">25000</text><line x1="671.78" y1="220.5" x2="671.78" y2="222.8" stroke="#000000" stroke-width="0.58"/><text class="tk" x="660.65" y="232.05" font-size="9.8" textLength="22.25" lengthAdjust="spacingAndGlyphs">30000</text><text text-anchor="middle" transform="translate(538.49,242.8) scale(0.975,1)" font-size="9.8">Frame Number</text><text text-anchor="middle" transform="translate(369.88,115.53) rotate(-90) scale(0.975,1)" font-size="9.8">Number of molecules in clusters</text><text class="pl" transform="translate(350.1,9.25) scale(1.1,1)" font-size="12.1" font-weight="bold">b</text><rect x="568.6" y="71.53" width="110.7" height="87.4" rx="2" ry="2" fill="#ffffff" fill-opacity="0.8" stroke="#d4d4d4" stroke-width="0.8"/><text text-anchor="middle" transform="translate(624.05,83.93) scale(0.985,1)" font-size="12.2">Clusters with:</text><line x1="572" y1="94.62" x2="592.5" y2="94.62" stroke="#1f77b4" stroke-width="1.35"/><text transform="translate(599.9,98.12) scale(0.975,1)" font-size="9.8">1-6 molecules</text><line x1="572" y1="108.42" x2="592.5" y2="108.42" stroke="#ff7f0e" stroke-width="1.35"/><text transform="translate(599.9,111.92) scale(0.975,1)" font-size="9.8">7-30 molecules</text><line x1="572" y1="122.22" x2="592.5" y2="122.22" stroke="#2ca02c" stroke-width="1.35"/><text transform="translate(599.9,125.72) scale(0.975,1)" font-size="9.8">31-60 molecules</text><line x1="572" y1="136.03" x2="592.5" y2="136.03" stroke="#d62728" stroke-width="1.35"/><text transform="translate(599.9,139.53) scale(0.975,1)" font-size="9.8">61-84 molecules</text><line x1="572" y1="149.82" x2="592.5" y2="149.82" stroke="#000000" stroke-width="1.35"/><text transform="translate(599.9,153.32) scale(0.975,1)" font-size="9.8">85-120 molecules</text></g><g><clipPath id="clipc"><rect x="42.48" y="281.6" width="292.02" height="200.13"/></clipPath><g clip-path="url(#clipc)"><polyline points="55.1,472.8 55.7,478.9 55.96,478.9 55.96,478.81 57.99,478.81 57.99,476.98 60.02,476.98 60.02,478.81 62.05,478.81 62.05,478.9 62.3,478.9 63.3,480.3 63.55,480.3 63.55,480.63 65.05,480.63 65.05,480.3 65.3,480.3 65.58,480.3 65.58,480.63 66.1,480.63 66.1,478.81 67.15,478.81 67.15,478.3 67.4,478.3 67.65,478.3 67.65,478.81 70.15,478.81 70.15,478.3 70.4,478.3 71.5,476.2 71.75,476.2 71.75,476.98 73.25,476.98 73.25,476.9 73.5,476.9 74.5,473.6 74.78,473.6 74.78,473.34 75.3,473.34 75.3,475.16 76.35,475.16 76.35,475.6 76.6,475.6 76.85,475.6 76.85,475.16 77.85,475.16 77.85,473.34 78.35,473.34 78.35,473.2 78.6,473.2 78.88,473.2 78.88,473.34 79.4,473.34 79.4,475.16 80.45,475.16 80.45,476.2 80.7,476.2 80.95,476.2 80.95,476.98 84.45,476.98 84.45,476.2 84.7,476.2 84.97,476.2 84.97,475.16 86.55,475.16 86.55,474.2 86.8,474.2 87.06,474.2 87.06,473.34 90.65,473.34 90.65,474.2 90.9,474.2 91.15,474.2 91.15,473.34 92.65,473.34 92.65,473.2 92.9,473.2 93.16,473.2 93.16,473.34 96.75,473.34 96.75,474.2 97,474.2 97.26,474.2 97.26,473.34 100.85,473.34 100.85,473.2 101.1,473.2 101.36,473.2 101.36,473.34 104.95,473.34 104.95,473.6 105.2,473.6 105.46,473.6 105.46,473.34 107,473.34 107,475.16 109.3,475.2 112.05,475.16 112.05,476.2 112.3,476.2 112.57,476.2 112.57,475.16 115.15,475.16 115.15,474.2 115.4,474.2 115.65,474.2 115.65,471.52 116.65,471.52 116.65,473.34 117.15,473.34 117.15,472.2 117.4,472.2 117.65,472.2 117.65,471.52 118.65,471.52 118.65,469.7 119.65,469.7 119.65,469.5 119.9,469.5 121.5,474.2 121.77,474.2 121.77,471.52 122.8,471.52 122.8,473.34 124.35,473.34 124.35,473.2 124.6,473.2 124.86,473.2 124.86,473.34 127.42,473.34 127.42,475.16 128.45,475.16 128.45,474.8 128.7,474.8 128.95,474.8 128.95,475.16 131.45,475.16 131.45,474.8 131.7,474.8 131.97,474.8 131.97,475.16 134.55,475.16 134.55,475.6 134.8,475.6 135.07,475.6 135.07,475.16 136.62,475.16 136.62,473.34 137.65,473.34 137.65,473.2 137.9,473.2 138.15,473.2 138.15,473.34 138.65,473.34 138.65,475.16 139.65,475.16 139.65,476.2 139.9,476.2 140.17,476.2 140.17,476.98 142.75,476.98 142.75,476.2 143,476.2 144,479.7 144.28,479.7 144.28,478.81 145.85,478.81 145.85,477.7 146.1,477.7 146.35,477.7 146.35,478.81 147.85,478.81 147.85,480.3 148.1,480.3 148.36,480.3 148.36,482.45 150.41,482.45 150.41,480.63 151.44,480.63 151.44,482.45 152.46,482.45 152.46,480.63 156.05,480.63 156.05,480.3 156.3,480.3 156.55,480.3 156.55,478.81 158.05,478.81 158.05,477.7 158.3,477.7 158.56,477.7 158.56,476.98 162.15,476.98 162.15,476.2 162.4,476.2 162.65,476.2 162.65,475.16 164.15,475.16 164.15,474.2 164.4,474.2 164.67,474.2 164.67,473.34 166.73,473.34 166.73,471.52 168.8,471.52 168.8,473.34 170.35,473.34 170.35,474.2 170.6,474.2 170.85,474.2 170.85,475.16 171.35,475.16 171.35,476.98 172.35,476.98 172.35,478.81 173.35,478.81 173.35,480.3 173.6,480.3 173.86,480.3 173.86,480.63 177.45,480.63 177.45,480.3 177.7,480.3 177.97,480.3 177.97,480.63 178.5,480.63 178.5,478.81 179.55,478.81 179.55,478.3 179.8,478.3 180.05,478.3 180.05,478.81 181.05,478.81 181.05,480.63 181.55,480.63 181.55,480.3 181.8,480.3 182.08,480.3 182.08,480.63 182.6,480.63 182.6,478.81 183.65,478.81 183.65,478.3 183.9,478.3 184.15,478.3 184.15,478.81 185.15,478.81 185.15,480.63 185.65,480.63 185.65,480.3 185.9,480.3 187,480.9 187.27,480.9 187.27,480.63 192.95,480.63 192.95,480.9 193.2,480.9 193.45,480.9 193.45,480.63 193.95,480.63 193.95,478.81 194.95,478.81 194.95,478.3 195.2,478.3 195.46,478.3 195.46,476.98 198.03,476.98 198.03,475.16 199.05,475.16 199.05,474.8 199.3,474.8 199.56,474.8 199.56,475.16 201.61,475.16 201.61,476.98 203.15,476.98 203.15,476.9 203.4,476.9 203.66,476.9 203.66,476.98 206.2,476.98 206.2,475.16 209.5,475.2 210.28,475.16 210.28,476.98 212.35,476.98 212.35,474.8 212.6,474.8 212.85,474.8 212.85,475.16 213.35,475.16 213.35,476.98 213.85,476.98 213.85,478.81 214.35,478.81 214.35,479.3 214.6,479.3 214.86,479.3 214.86,478.81 216.91,478.81 216.91,476.98 218.45,476.98 218.45,476.9 218.7,476.9 218.96,476.9 218.96,476.98 219.47,476.98 219.47,478.81 220.5,478.81 220.5,480.63 221.53,480.63 221.53,482.45 222.55,482.45 222.55,480.9 222.8,480.9 223.06,480.9 223.06,480.63 225.11,480.63 225.11,478.81 226.65,478.81 226.65,478.9 226.9,478.9 227.16,478.9 227.16,478.81 232.74,478.81 232.74,476.98 233.75,476.98 233.75,477.7 234,477.7 234.27,477.7 234.27,476.98 236.87,476.98 236.87,475.16 238.95,475.16 238.95,474.8 239.2,474.8 239.46,474.8 239.46,475.16 244.3,475.2 246.59,475.16 246.59,476.98 247.6,476.98 247.6,475.16 251.15,475.16 251.15,474.8 251.4,474.8 251.68,474.8 251.68,475.16 252.2,475.16 252.2,476.98 253.25,476.98 253.25,478.3 253.5,478.3 253.76,478.3 253.76,478.81 256.82,478.81 256.82,476.98 258.35,476.98 258.35,477.7 258.6,477.7 258.85,477.7 258.85,476.98 260.35,476.98 260.35,475.16 261.35,475.16 261.35,474.8 261.6,474.8 261.86,474.8 261.86,475.16 263.91,475.16 263.91,476.98 264.43,476.98 264.43,475.16 265.45,475.16 265.45,475.08 265.7,475.08 265.98,475.08 265.98,476.98 266.5,476.98 266.5,478.81 267.55,478.81 267.55,478.9 267.8,478.9 268.05,478.9 268.05,478.81 270.55,478.81 270.55,479.3 270.8,479.3 271.06,479.3 271.06,478.81 271.57,478.81 271.57,476.98 272.6,476.98 272.6,478.81 273.11,478.81 273.11,476.98 273.62,476.98 273.62,475.16 274.14,475.16 274.14,473.34 274.65,473.34 274.65,473.2 274.9,473.2 275.16,473.2 275.16,473.34 278.75,473.34 278.75,474.2 279,474.2 279.26,474.2 279.26,475.16 280.29,475.16 280.29,476.98 281.83,476.98 281.83,478.81 282.85,478.81 282.85,479.7 283.1,479.7 283.36,479.7 283.36,478.81 289,478.81 289,476.98 290.03,476.98 290.03,478.81 291.05,478.81 291.05,479.7 291.3,479.7 291.55,479.7 291.55,478.81 293.05,478.81 293.05,477.7 293.3,477.7 293.56,477.7 293.56,476.98 297.15,476.98 297.15,477.7 297.4,477.7 297.65,477.7 297.65,476.98 299.15,476.98 299.15,474.2 299.4,474.2 299.66,474.2 299.66,473.34 303.25,473.34 303.25,473.6 303.5,473.6 304.6,469.5 304.85,469.5 304.85,469.7 305.85,469.7 305.85,471.52 307.35,471.52 307.35,472.2 307.6,472.2 307.86,472.2 307.86,471.52 309.4,471.52 309.4,473.34 310.43,473.34 310.43,475.16 311.45,475.16 311.45,474.62 311.7,474.62 311.97,474.62 311.97,473.34 314.55,473.34 314.55,474.2 314.8,474.2 315.05,474.2 315.05,473.34 315.55,473.34 315.55,471.52 316.05,471.52 316.05,469.7 316.55,469.7 316.55,468.1 316.8,468.1 317.07,468.1 317.07,469.7 318.12,469.7 318.12,471.52 318.65,471.52 318.65,472.8 318.9,472.8 319.17,472.8 319.17,473.34 321.25,473.34 321.25,473.6 321.5,473.6" fill="none" stroke="#1f77b4" stroke-width="1.3" stroke-linejoin="miter" stroke-miterlimit="2" stroke-linecap="butt"/></g><polyline points="55.68,482.45 321.78,482.45" fill="none" stroke="#d62728" stroke-width="1.45" stroke-linejoin="miter" stroke-miterlimit="2" stroke-linecap="butt"/><polyline points="55.1,300.3 55.7,293.2 57.2,294.8 62.05,294.78 62.05,294.2 62.3,294.2 63.3,292.8 63.55,292.8 63.55,292.96 65.05,292.96 65.05,292.8 65.3,292.8 65.58,292.8 65.58,292.96 66.62,292.96 66.62,294.78 67.4,294.8 70.15,294.78 70.15,295.2 70.4,295.2 70.68,295.2 70.68,294.78 71.2,294.78 71.2,296.61 72.25,296.61 72.25,296.9 72.5,296.9 72.75,296.9 72.75,298.43 74.25,298.43 74.25,299.7 74.5,299.7 74.78,299.7 74.78,298.43 76.35,298.43 76.35,297.7 76.6,297.7 76.85,297.7 76.85,298.43 77.85,298.43 77.85,300.25 78.35,300.25 78.35,300.3 78.6,300.3 78.88,300.3 78.88,300.25 79.4,300.25 79.4,298.43 80.45,298.43 80.45,296.9 80.7,296.9 80.95,296.9 80.95,296.61 84.45,296.61 84.45,296.9 84.7,296.9 84.97,296.9 84.97,296.61 85.5,296.61 85.5,298.43 86.55,298.43 86.55,298.9 86.8,298.9 87.06,298.9 87.06,298.43 88.09,298.43 88.09,296.61 89.62,296.61 89.62,298.43 90.65,298.43 90.65,298.9 90.9,298.9 91.16,298.9 91.16,298.43 93.21,298.43 93.21,300.25 94.75,300.25 94.75,299.7 95,299.7 95.26,299.7 95.26,300.25 100.34,300.25 100.34,298.43 100.85,298.43 100.85,299.3 101.1,299.3 101.36,299.3 101.36,300.25 104.95,300.25 104.95,300.3 105.2,300.3 105.45,300.3 105.45,300.25 107.95,300.25 107.95,299.3 108.2,299.3 108.47,299.3 108.47,298.43 111.05,298.43 111.05,297.3 111.3,297.3 111.56,297.3 111.56,296.61 112.08,296.61 112.08,298.43 115.15,298.43 115.15,298.3 115.4,298.3 115.66,298.3 115.66,298.43 116.18,298.43 116.18,300.25 117.71,300.25 117.71,302.07 119.25,302.07 119.25,303.4 119.5,303.4 119.75,303.4 119.75,300.25 121.25,300.25 121.25,299.7 121.5,299.7 121.76,299.7 121.76,300.25 123.3,300.25 123.3,298.43 125.35,298.43 125.35,298.9 125.6,298.9 125.86,298.9 125.86,298.43 126.38,298.43 126.38,296.61 127.4,296.61 127.4,298.43 127.91,298.43 127.91,300.25 129.45,300.25 129.45,299.7 129.7,299.7 129.96,299.7 129.96,300.25 130.47,300.25 130.47,298.43 133.55,298.43 133.55,297.3 133.8,297.3 134.07,297.3 134.07,298.43 136.65,298.43 136.65,299.7 136.9,299.7 137.15,299.7 137.15,298.43 138.65,298.43 138.65,296.9 138.9,296.9 139.16,296.9 139.16,296.61 142.75,296.61 142.75,296.2 143,296.2 143.25,296.2 143.25,294.78 144.75,294.78 144.75,293.2 145,293.2 145.27,293.2 145.27,292.96 147.85,292.96 147.85,292.8 148.1,292.8 148.36,292.8 148.36,292.96 154.51,292.96 154.51,294.78 155.54,294.78 155.54,292.96 156.05,292.96 156.05,292.8 156.3,292.8 156.55,292.8 156.55,292.96 157.05,292.96 157.05,294.78 159.05,294.78 159.05,296.2 159.3,296.2 159.56,296.2 159.56,296.61 161.09,296.61 161.09,298.43 162.11,298.43 162.11,296.61 162.62,296.61 162.62,298.43 163.64,298.43 163.64,296.61 164.15,296.61 164.15,296.9 164.4,296.9 165.5,298.3 165.76,298.3 165.76,298.43 170.35,298.43 170.35,298.3 170.6,298.3 170.85,298.3 170.85,296.61 172.35,296.61 172.35,294.78 173.35,294.78 173.35,293.2 173.6,293.2 173.86,293.2 173.86,292.96 177.45,292.96 177.45,292.8 177.7,292.8 177.97,292.8 177.97,292.96 180.03,292.96 180.03,294.78 180.55,294.78 180.55,294.2 180.8,294.2 181.06,294.2 181.06,294.78 182.09,294.78 182.09,292.96 184.65,292.96 184.65,293.2 184.9,293.2 185.17,293.2 185.17,292.96 187.23,292.96 187.23,291.14 187.75,291.14 187.75,291.5 188,291.5 188.27,291.5 188.27,291.14 192.95,291.14 192.95,291.5 193.2,291.5 193.45,291.5 193.45,291.14 193.95,291.14 193.95,292.96 195.95,292.96 195.95,294.2 196.2,294.2 196.47,294.2 196.47,294.78 197.5,294.78 197.5,296.61 198.53,296.61 198.53,298.43 199.05,298.43 199.05,298.3 199.3,298.3 199.56,298.3 199.56,298.43 200.59,298.43 200.59,296.61 203.15,296.61 203.15,295.6 203.4,295.6 203.66,295.6 203.66,296.61 207.25,296.61 207.25,296.9 207.5,296.9 207.75,296.9 207.75,296.61 208.75,296.61 208.75,298.43 210.25,298.43 210.25,298.3 210.5,298.3 210.77,298.3 210.77,296.61 213.35,296.61 213.35,295.42 213.6,295.42 213.86,295.42 213.86,294.78 214.37,294.78 214.37,296.61 215.9,296.61 215.9,294.78 218.45,294.78 218.45,295.6 218.7,295.6 218.96,295.6 218.96,294.78 220.5,294.78 220.5,292.96 222.04,292.96 222.04,291.14 222.55,291.14 222.55,291.5 222.8,291.5 223.07,291.5 223.07,291.14 223.58,291.14 223.58,292.96 225.65,292.96 225.65,293.6 225.9,293.6 226.16,293.6 226.16,292.96 227.68,292.96 227.68,294.78 230.71,294.78 230.71,292.96 231.72,292.96 231.72,294.78 234,294.8 235.29,294.78 235.29,296.61 237.34,296.61 237.34,298.43 237.85,298.43 237.85,298.3 238.1,298.3 238.37,298.3 238.37,298.43 244.05,298.43 244.05,297.7 244.3,297.7 244.56,297.7 244.56,298.43 252.15,298.43 252.15,298.3 252.4,298.3 253.5,294.2 253.76,294.2 253.76,294.78 258.6,294.8 259.35,294.78 259.35,296.61 261.35,296.61 261.35,297.7 261.6,297.7 261.87,297.7 261.87,296.61 263.93,296.61 263.93,294.78 264.7,294.8 265.95,294.78 265.95,296.61 266.45,296.61 266.45,296.2 266.7,296.2 266.96,296.2 266.96,296.61 267.48,296.61 267.48,294.78 270.04,294.78 270.04,292.96 270.55,292.96 270.55,293.2 270.8,293.2 271.06,293.2 271.06,294.78 272.6,294.78 272.6,296.61 273.62,296.61 273.62,298.43 274.65,298.43 274.65,299.7 274.9,299.7 275.17,299.7 275.17,300.25 276.2,300.25 276.2,298.43 277.75,298.43 277.75,298.9 278,298.9 278.26,298.9 278.26,298.43 279.28,298.43 279.28,296.61 280.81,296.61 280.81,294.78 282.34,294.78 282.34,292.96 282.85,292.96 282.85,293.2 283.1,293.2 283.36,293.2 283.36,292.96 291.05,292.96 291.05,293.2 291.3,293.2 291.55,293.2 291.55,292.96 292.05,292.96 292.05,296.61 293.3,296.62 293.56,296.62 293.56,294.78 296.12,294.78 296.12,296.61 297.15,296.61 297.15,295.2 297.4,295.2 297.65,295.2 297.65,296.61 299.15,296.61 299.15,297.7 299.4,297.7 299.67,297.7 299.67,298.43 302.25,298.43 302.25,297.7 302.5,297.7 302.77,297.7 302.77,298.43 303.3,298.43 303.3,300.25 303.83,300.25 303.83,302.07 304.35,302.07 304.35,303.4 304.6,303.4 304.85,303.4 304.85,302.07 305.85,302.07 305.85,300.25 306.35,300.25 306.35,300.3 306.6,300.3 306.86,300.3 306.86,300.25 311.45,300.25 311.45,300.3 311.7,300.3 311.98,300.3 311.98,300.25 312.5,300.25 312.5,298.43 313.55,298.43 313.55,298.3 313.8,298.3 314.05,298.3 314.05,298.43 314.55,298.43 314.55,300.25 315.05,300.25 315.05,302.07 316.05,302.07 316.05,303.89 316.55,303.89 316.55,304.4 316.8,304.4 317.07,304.4 317.07,303.89 317.6,303.89 317.6,302.07 318.65,302.07 318.65,300.9 318.9,300.9 319.17,300.9 319.17,300.25 321.25,300.25 321.25,299.7 321.5,299.7" fill="none" stroke="#000000" stroke-width="1.3" stroke-linejoin="miter" stroke-miterlimit="2" stroke-linecap="butt"/><rect x="42.48" y="281.6" width="292.02" height="210.3" fill="none" stroke="#000000" stroke-width="0.58"/><line x1="40.18" y1="482.4" x2="42.48" y2="482.4" stroke="#000000" stroke-width="0.58"/><text class="tk" x="33.33" y="486.2" font-size="9.8" textLength="4.45" lengthAdjust="spacingAndGlyphs">0</text><line x1="40.18" y1="445.96" x2="42.48" y2="445.96" stroke="#000000" stroke-width="0.58"/><text class="tk" x="28.88" y="449.76" font-size="9.8" textLength="8.9" lengthAdjust="spacingAndGlyphs">20</text><line x1="40.18" y1="409.52" x2="42.48" y2="409.52" stroke="#000000" stroke-width="0.58"/><text class="tk" x="28.88" y="413.32" font-size="9.8" textLength="8.9" lengthAdjust="spacingAndGlyphs">40</text><line x1="40.18" y1="373.08" x2="42.48" y2="373.08" stroke="#000000" stroke-width="0.58"/><text class="tk" x="28.88" y="376.88" font-size="9.8" textLength="8.9" lengthAdjust="spacingAndGlyphs">60</text><line x1="40.18" y1="336.64" x2="42.48" y2="336.64" stroke="#000000" stroke-width="0.58"/><text class="tk" x="28.88" y="340.44" font-size="9.8" textLength="8.9" lengthAdjust="spacingAndGlyphs">80</text><line x1="40.18" y1="300.2" x2="42.48" y2="300.2" stroke="#000000" stroke-width="0.58"/><text class="tk" x="24.43" y="304" font-size="9.8" textLength="13.35" lengthAdjust="spacingAndGlyphs">100</text><line x1="55.68" y1="491.9" x2="55.68" y2="494.2" stroke="#000000" stroke-width="0.58"/><text class="tk" x="53.45" y="503.45" font-size="9.8" textLength="4.45" lengthAdjust="spacingAndGlyphs">0</text><line x1="100.03" y1="491.9" x2="100.03" y2="494.2" stroke="#000000" stroke-width="0.58"/><text class="tk" x="91.13" y="503.45" font-size="9.8" textLength="17.8" lengthAdjust="spacingAndGlyphs">5000</text><line x1="144.38" y1="491.9" x2="144.38" y2="494.2" stroke="#000000" stroke-width="0.58"/><text class="tk" x="133.25" y="503.45" font-size="9.8" textLength="22.25" lengthAdjust="spacingAndGlyphs">10000</text><line x1="188.73" y1="491.9" x2="188.73" y2="494.2" stroke="#000000" stroke-width="0.58"/><text class="tk" x="177.61" y="503.45" font-size="9.8" textLength="22.25" lengthAdjust="spacingAndGlyphs">15000</text><line x1="233.08" y1="491.9" x2="233.08" y2="494.2" stroke="#000000" stroke-width="0.58"/><text class="tk" x="221.96" y="503.45" font-size="9.8" textLength="22.25" lengthAdjust="spacingAndGlyphs">20000</text><line x1="277.43" y1="491.9" x2="277.43" y2="494.2" stroke="#000000" stroke-width="0.58"/><text class="tk" x="266.31" y="503.45" font-size="9.8" textLength="22.25" lengthAdjust="spacingAndGlyphs">25000</text><line x1="321.78" y1="491.9" x2="321.78" y2="494.2" stroke="#000000" stroke-width="0.58"/><text class="tk" x="310.66" y="503.45" font-size="9.8" textLength="22.25" lengthAdjust="spacingAndGlyphs">30000</text><text text-anchor="middle" transform="translate(188.49,514.2) scale(0.975,1)" font-size="9.8">Frame Number</text><text text-anchor="middle" transform="translate(19.88,386.75) rotate(-90) scale(0.975,1)" font-size="9.8">Number of molecules in clusters</text><text class="pl" transform="translate(-0.6,280.9) scale(1.1,1)" font-size="12.1" font-weight="bold">c</text><rect x="218.6" y="342.75" width="110.7" height="87.4" rx="2" ry="2" fill="#ffffff" fill-opacity="0.8" stroke="#d4d4d4" stroke-width="0.8"/><text text-anchor="middle" transform="translate(274.05,355.15) scale(0.985,1)" font-size="12.2">Clusters with:</text><line x1="222" y1="365.85" x2="242.5" y2="365.85" stroke="#1f77b4" stroke-width="1.35"/><text transform="translate(249.9,369.35) scale(0.975,1)" font-size="9.8">1-6 molecules</text><line x1="222" y1="379.65" x2="242.5" y2="379.65" stroke="#ff7f0e" stroke-width="1.35"/><text transform="translate(249.9,383.15) scale(0.975,1)" font-size="9.8">7-26 molecules</text><line x1="222" y1="393.45" x2="242.5" y2="393.45" stroke="#2ca02c" stroke-width="1.35"/><text transform="translate(249.9,396.95) scale(0.975,1)" font-size="9.8">27-52 molecules</text><line x1="222" y1="407.25" x2="242.5" y2="407.25" stroke="#d62728" stroke-width="1.35"/><text transform="translate(249.9,410.75) scale(0.975,1)" font-size="9.8">53-73 molecules</text><line x1="222" y1="421.05" x2="242.5" y2="421.05" stroke="#000000" stroke-width="1.35"/><text transform="translate(249.9,424.55) scale(0.975,1)" font-size="9.8">74-105 molecules</text></g><g><clipPath id="clipd"><rect x="392.48" y="281.6" width="292.02" height="200.08"/></clipPath><g clip-path="url(#clipd)"><polyline points="405.1,464.2 406.1,467.3 406.38,467.3 406.38,466.49 407.95,466.49 407.95,466.2 408.2,466.2 408.45,466.2 408.45,466.49 410.45,466.49 410.45,468.08 410.95,468.08 410.95,467.7 411.2,467.7 411.48,467.7 411.48,468.08 413.05,468.08 413.05,468.9 413.3,468.9 413.55,468.9 413.55,468.08 415.55,468.08 415.55,466.49 416.05,466.49 416.05,466.9 416.3,466.9 416.57,466.9 416.57,466.49 419.15,466.49 419.15,466.2 419.4,466.2 419.67,466.2 419.67,464.9 420.73,464.9 420.73,463.31 421.25,463.31 421.25,463.2 421.5,463.2 421.75,463.2 421.75,463.31 423.25,463.31 423.25,464.9 424.25,464.9 424.25,464.8 424.5,464.8 424.77,464.8 424.77,464.9 425.8,464.9 425.8,466.49 426.32,466.49 426.32,464.9 427.35,464.9 427.35,466.9 427.6,466.9 427.87,466.9 427.87,466.49 430.45,466.49 430.45,467.3 430.7,467.3 431.7,470.3 431.95,470.3 431.95,469.67 433.45,469.67 433.45,468.9 433.7,468.9 433.98,468.9 433.98,469.67 435.55,469.67 435.55,470.3 435.8,470.3 436.05,470.3 436.05,469.67 436.55,469.67 436.55,468.08 437.05,468.08 437.05,466.49 437.55,466.49 437.55,466.2 437.8,466.2 438.4,470.9 438.65,470.9 438.65,471.26 442.65,471.26 442.65,470.9 442.9,470.9 443.17,470.9 443.17,471.26 443.68,471.26 443.68,472.85 444.72,472.85 444.72,474.45 445.75,474.45 445.75,475.4 446,475.4 446.25,475.4 446.25,476.04 447.25,476.04 447.25,477.63 448.75,477.63 448.75,478.5 449,478.5 449.27,478.5 449.27,477.63 450.85,477.63 450.85,476.5 451.1,476.5 451.37,476.5 451.37,476.04 452.92,476.04 452.92,474.45 454.2,474.4 454.95,474.45 454.95,476.04 456.95,476.04 456.95,477.1 457.2,477.1 457.46,477.1 457.46,477.63 461.05,477.63 461.05,478.5 461.3,478.5 461.56,478.5 461.56,477.63 465.15,477.63 465.15,477.5 465.4,477.5 465.66,477.5 465.66,477.63 467.18,477.63 467.18,479.22 468.2,479.22 468.2,477.63 468.71,477.63 468.71,479.22 471.25,479.22 471.25,479.1 471.5,479.1 471.77,479.1 471.77,479.22 472.28,479.22 472.28,477.63 473.32,477.63 473.32,474.45 474.35,474.45 474.35,473.81 474.6,473.81 474.85,473.81 474.85,474.45 476.6,474.4 480.45,474.45 480.45,475 480.7,475 480.97,475 480.97,476.04 483.55,476.04 483.55,478.5 483.8,478.5 484.07,478.5 484.07,479.22 486.13,479.22 486.13,480.81 486.65,480.81 486.65,480.5 486.9,480.5 487.16,480.5 487.16,480.81 494.75,480.81 494.75,480.5 495,480.5 496.1,482.4 499.1,482.4 500.1,479.1 500.38,479.1 500.38,479.22 501.43,479.22 501.43,480.81 501.95,480.81 501.95,480.5 502.2,480.5 502.46,480.5 502.46,480.81 505.54,480.81 505.54,479.22 506.05,479.22 506.05,479.9 506.3,479.9 506.56,479.9 506.56,479.22 511.15,479.22 511.15,479.9 511.4,479.9 511.65,479.9 511.65,479.22 512.65,479.22 512.65,477.63 513.15,477.63 513.15,477.5 513.4,477.5 513.67,477.5 513.67,477.63 514.7,477.63 514.7,479.22 516.25,479.22 516.25,479.9 516.5,479.9 516.76,479.9 516.76,479.22 527.45,479.22 527.45,479.9 527.7,479.9 527.98,479.9 527.98,479.22 529.02,479.22 529.02,477.63 529.55,477.63 529.55,477.1 529.8,477.1 530.06,477.1 530.06,477.63 535.65,477.63 535.65,477.1 535.9,477.1 536.18,477.1 536.18,476.04 538.85,476.04 538.85,475.4 539.1,475.4 539.37,475.4 539.37,476.04 540.92,476.04 540.92,477.63 541.95,477.63 541.95,477.9 542.2,477.9 542.45,477.9 542.45,476.04 543.45,476.04 543.45,474.45 543.95,474.45 543.95,476.04 544.95,476.04 544.95,475.4 545.2,475.4 545.47,475.4 545.47,476.04 547.02,476.04 547.02,477.63 548.05,477.63 548.05,477.9 548.3,477.9 548.57,477.9 548.57,477.63 549.08,477.63 549.08,479.22 551.15,479.22 551.15,479.9 551.4,479.9 551.65,479.9 551.65,480.81 553.15,480.81 553.15,482.4 554.15,482.4 554.15,481.2 554.4,481.2 554.67,481.2 554.67,480.81 557.25,480.81 557.25,480.5 557.5,480.5 557.75,480.5 557.75,480.81 558.25,480.81 558.25,479.22 559.75,479.22 559.75,477.63 560.25,477.63 560.25,477.9 560.5,477.9 560.77,477.9 560.77,479.22 562.35,479.22 562.35,480.5 562.6,480.5 562.87,480.5 562.87,479.22 564.43,479.22 564.43,477.63 564.95,477.63 564.95,477.5 565.2,477.5 566.7,480.5 566.96,480.5 566.96,480.81 572.55,480.81 572.55,480.5 572.8,480.5 573.07,480.5 573.07,479.22 574.65,479.22 574.65,478.5 574.9,478.5 575.15,478.5 575.15,479.22 576.65,479.22 576.65,480.5 576.9,480.5 577.9,478.5 578.14,478.5 578.14,479.22 589.95,479.22 589.95,478.5 590.2,478.5 591.2,481.2 591.45,481.2 591.45,480.81 592.45,480.81 592.45,479.22 592.95,479.22 592.95,479.5 593.2,479.5 593.47,479.5 593.47,479.22 599.15,479.22 599.15,479.1 599.4,479.1 599.65,479.1 599.65,479.22 600.15,479.22 600.15,477.63 601.15,477.63 601.15,476.5 601.4,476.5 601.67,476.5 601.67,476.04 603.25,476.04 603.25,475.4 603.5,475.4 603.75,475.4 603.75,476.04 605.25,476.04 605.25,477.1 605.5,477.1 605.76,477.1 605.76,477.63 612.43,477.63 612.43,479.22 613.45,479.22 613.45,477.1 613.7,477.1 614.7,474.4 618.52,474.45 618.52,476.04 619.53,476.04 619.53,474.45 620.55,474.45 620.55,475 620.8,475 621.12,475 621.12,474.45 622.25,474.45 622.25,473.8 622.5,473.8 622.73,473.8 622.73,474.45 624.65,474.45 624.65,475.4 624.9,475.4 625.17,475.4 625.17,476.04 627.75,476.04 627.75,477.1 628,477.1 628.27,477.1 628.27,477.63 629.82,477.63 629.82,479.22 630.85,479.22 630.85,479.1 631.1,479.1 631.35,479.1 631.35,479.22 631.85,479.22 631.85,480.81 632.85,480.81 632.85,482.4 633.35,482.4 633.35,480.81 633.85,480.81 633.85,480.5 634.1,480.5 634.38,480.5 634.38,480.81 634.9,480.81 634.9,479.22 635.95,479.22 635.95,479.1 636.2,479.1 636.45,479.1 636.45,479.22 637.95,479.22 637.95,480.81 638.95,480.81 638.95,480.5 639.2,480.5 639.48,480.5 639.48,480.81 640,480.81 640,479.22 641.05,479.22 641.05,479.1 641.3,479.1 641.55,479.1 641.55,479.22 642.05,479.22 642.05,480.81 643.05,480.81 643.05,481.2 643.3,481.2 643.56,481.2 643.56,480.81 651.25,480.81 651.25,480.5 651.5,480.5 652.5,475.4 652.77,475.4 652.77,476.04 654.35,476.04 654.35,477.1 654.6,477.1 655.6,475.4 655.88,475.4 655.88,476.04 656.42,476.04 656.42,477.63 656.95,477.63 656.95,479.1 657.2,479.1 657.45,479.1 657.45,479.22 659.45,479.22 659.45,479.1 659.7,479.1 659.95,479.1 659.95,477.63 660.95,477.63 660.95,476.04 661.45,476.04 661.45,475.4 661.7,475.4 661.96,475.4 661.96,477.63 662.48,477.63 662.48,476.04 662.99,476.04 662.99,474.45 665.8,474.4 669.9,474.4 670.18,474.4 670.18,476.04 670.72,476.04 670.72,477.63 671.25,477.63 671.25,475.8 671.5,475.8" fill="none" stroke="#1f77b4" stroke-width="1.3" stroke-linejoin="miter" stroke-miterlimit="2" stroke-linecap="butt"/></g><polyline points="405.68,482.4 671.78,482.4" fill="none" stroke="#d62728" stroke-width="1.45" stroke-linejoin="miter" stroke-miterlimit="2" stroke-linecap="butt"/><polyline points="405.2,309.4 406.1,305.9 406.37,305.9 406.37,305.82 407.93,305.82 407.93,307.41 408.45,307.41 408.45,306.8 408.7,306.8 409.02,306.8 409.02,305.82 410.15,305.82 410.15,305 410.4,305 410.69,305 410.69,304.23 413.1,304.2 414.35,304.23 414.35,305.82 416.35,305.82 416.35,306.4 416.6,306.4 416.85,306.4 416.85,305.82 417.85,305.82 417.85,307.41 419.85,307.41 419.85,307.1 420.1,307.1 421.5,310.6 422.83,310.59 422.83,309 423.35,309 423.35,309.4 423.6,309.4 423.85,309.4 423.85,309 425.35,309 425.35,307.41 426.85,307.41 426.85,306.8 427.1,306.8 427.35,306.8 427.35,305.82 430.35,305.82 430.35,305 430.6,305 431.5,307.7 432.3,302.4 432.56,302.4 432.56,302.64 435.65,302.64 435.65,302.4 435.9,302.4 436.22,302.4 436.22,304.23 436.78,304.23 436.78,305.82 437.35,305.82 437.35,306.8 437.6,306.8 438.5,301.9 438.74,301.9 438.74,302.64 442.65,302.64 442.65,301.9 442.9,301.9 443.17,301.9 443.17,299.45 445.25,299.45 445.25,298 445.5,298 445.75,298 445.75,297.86 446.25,297.86 446.25,296.27 448.25,296.27 448.25,294.68 448.75,294.68 448.75,294.5 449,294.5 449.27,294.5 449.27,294.68 450.31,294.68 450.31,296.27 451.6,296.3 452.39,296.27 452.39,297.86 453.95,297.86 453.95,298.4 454.2,298.4 454.49,298.4 454.49,297.86 456.11,297.86 456.11,296.27 456.9,296.3 459.25,296.27 459.25,295.4 459.5,295.4 459.71,295.4 459.71,294.68 461.55,294.68 461.55,294.4 461.8,294.4 462.05,294.4 462.05,294.68 462.55,294.68 462.55,293.09 463.55,293.09 463.55,294.68 465.05,294.68 465.05,294.9 465.3,294.9 465.55,294.9 465.55,294.68 472.05,294.68 472.05,294.4 472.3,294.4 472.57,294.4 472.57,294.68 473.61,294.68 473.61,296.27 474.65,296.27 474.65,296.6 474.9,296.6 475.22,296.6 475.22,297.86 476.35,297.86 476.35,298.9 476.6,298.9 476.85,298.9 476.85,299.45 479.85,299.45 479.85,298.9 480.1,298.9 480.39,298.9 480.39,297.86 482.55,297.86 482.55,297.2 482.8,297.2 483.05,297.2 483.05,296.27 484.05,296.27 484.05,294.68 485.55,294.68 485.55,293.09 486.3,293.1 493.95,293.09 493.95,292.6 494.2,292.6 494.52,292.6 494.52,291.5 495.65,291.5 495.65,291.4 495.9,291.4 496.15,291.4 496.15,291.5 499.15,291.5 499.15,291.9 499.4,291.9 500.3,294 500.57,294 500.57,293.09 502.65,293.09 502.65,291.9 502.9,291.9 503.19,291.9 503.19,291.5 503.73,291.5 503.73,293.09 505.35,293.09 505.35,293.7 505.6,293.7 505.83,293.7 505.83,293.09 509.9,293.1 511.15,293.09 511.15,294.68 513.15,294.68 513.15,295.8 513.4,295.8 513.64,295.8 513.64,294.68 515.11,294.68 515.11,296.27 516.08,296.27 516.08,294.68 516.57,294.68 516.57,293.09 517.55,293.09 517.55,292.6 517.8,292.6 518.05,292.6 518.05,293.09 528.05,293.09 528.05,292.6 528.3,292.6 528.5,292.6 528.5,293.09 528.95,293.09 528.95,294.68 529.85,294.68 529.85,296.1 530.1,296.1 530.35,296.1 530.35,296.27 533.35,296.27 533.35,296.1 533.6,296.1 533.92,296.1 533.92,296.27 534.48,296.27 534.48,294.68 535.05,294.68 535.05,294.4 535.3,294.4 535.59,294.4 535.59,294.68 536.13,294.68 536.13,296.27 537.75,296.27 537.75,297.2 538,297.2 538.27,297.2 538.27,297.86 540.35,297.86 540.35,297.5 540.6,297.5 540.87,297.5 540.87,297.86 541.39,297.86 541.39,296.27 542.95,296.27 542.95,295.4 543.2,295.4 543.47,295.4 543.47,296.27 545.03,296.27 545.03,297.86 545.55,297.86 545.55,297.5 545.8,297.5 546.04,297.5 546.04,297.86 546.53,297.86 546.53,296.27 547.99,296.27 547.99,294.68 549.95,294.68 549.95,293.7 550.2,293.7 550.44,293.7 550.44,293.09 553.86,293.09 553.86,291.5 554.35,291.5 554.35,291.9 554.6,291.9 554.85,291.9 554.85,291.5 555.85,291.5 555.85,293.09 558.1,293.1 561.35,293.09 561.35,295.8 561.6,295.8 561.8,295.8 561.8,294.68 562.7,294.68 562.7,293.09 563.15,293.09 563.15,292.6 563.4,292.6 563.66,292.6 563.66,293.09 571.85,293.09 571.85,292.6 572.1,292.6 572.35,292.6 572.35,293.09 574.85,293.09 574.85,294.68 575.35,294.68 575.35,294.4 575.6,294.4 576.6,292.5 576.88,292.5 576.88,293.09 577.95,293.09 577.95,294.5 578.2,294.5 578.45,294.5 578.45,294.68 590.05,294.68 590.05,294.5 590.3,294.5 591.1,292.5 591.38,292.5 591.38,293.09 592.45,293.09 592.45,294.5 592.7,294.5 592.94,294.5 592.94,294.68 594.42,294.68 594.42,293.09 595.4,293.09 595.4,294.68 597.37,294.68 597.37,296.27 598.36,296.27 598.36,294.68 598.85,294.68 598.85,294.8 599.1,294.8 599.33,294.8 599.33,294.68 599.81,294.68 599.81,296.27 601.25,296.27 601.25,296.9 601.5,296.9 601.78,296.9 601.78,297.86 602.85,297.86 602.85,297.7 603.1,297.7 603.38,297.7 603.38,296.27 604.45,296.27 604.45,295.7 604.7,295.7 604.96,295.7 604.96,296.27 609.5,296.27 609.5,294.68 611.52,294.68 611.52,296.27 614.05,296.27 614.05,295.7 614.3,295.7 615.1,299.3 615.42,299.3 615.42,299.45 615.98,299.45 615.98,297.86 616.55,297.86 616.55,298 616.8,298 617.03,298 617.03,297.86 621.35,297.86 621.35,298 621.6,298 622.4,299.3 622.68,299.3 622.68,297.86 623.75,297.86 623.75,297.3 624,297.3 624.23,297.3 624.23,297.86 625.19,297.86 625.19,296.27 626.15,296.27 626.15,296.9 626.4,296.9 626.68,296.9 626.68,296.27 628.28,296.27 628.28,297.86 628.82,297.86 628.82,296.27 629.35,296.27 629.35,294.8 629.6,294.8 629.85,294.8 629.85,294.68 631.85,294.68 631.85,293.09 633.35,293.09 633.35,293.2 633.6,293.2 633.83,293.2 633.83,293.09 635.75,293.09 635.75,292.8 636,292.8 636.23,292.8 636.23,293.09 638.15,293.09 638.15,293.7 638.4,293.7 638.68,293.7 638.68,293.09 641.35,293.09 641.35,293.2 641.6,293.2 641.85,293.2 641.85,293.09 642.85,293.09 642.85,291.5 643.85,291.5 643.85,291.6 644.1,291.6 644.33,291.6 644.33,291.5 645.77,291.5 645.77,293.09 646.25,293.09 646.25,292.5 646.5,292.5 646.75,292.5 646.75,293.09 650.25,293.09 650.25,292.5 650.5,292.5 650.78,292.5 650.78,294.68 651.85,294.68 651.85,296.9 652.1,296.9 652.38,296.9 652.38,296.27 653.45,296.27 653.45,295.7 653.7,295.7 655.3,296.9 655.58,296.9 655.58,296.27 656.12,296.27 656.12,294.68 656.65,294.68 656.65,294.5 656.9,294.5 657.13,294.5 657.13,294.68 659.05,294.68 659.05,294.8 659.3,294.8 659.53,294.8 659.53,294.68 660.01,294.68 660.01,297.86 661.45,297.86 661.45,297.3 661.7,297.3 661.98,297.3 661.98,297.86 664.65,297.86 664.65,298 664.9,298 665.18,298 665.18,297.86 666.25,297.86 666.25,298.9 666.5,298.9 666.78,298.9 666.78,299.45 669.45,299.45 669.45,298.9 669.7,298.9 670.02,298.9 670.02,297.86 671.15,297.86 671.15,296.9 671.4,296.9" fill="none" stroke="#000000" stroke-width="1.3" stroke-linejoin="miter" stroke-miterlimit="2" stroke-linecap="butt"/><rect x="392.48" y="281.6" width="292.02" height="210.3" fill="none" stroke="#000000" stroke-width="0.58"/><line x1="390.18" y1="482.4" x2="392.48" y2="482.4" stroke="#000000" stroke-width="0.58"/><text class="tk" x="383.33" y="486.2" font-size="9.8" textLength="4.45" lengthAdjust="spacingAndGlyphs">0</text><line x1="390.18" y1="450.58" x2="392.48" y2="450.58" stroke="#000000" stroke-width="0.58"/><text class="tk" x="378.88" y="454.38" font-size="9.8" textLength="8.9" lengthAdjust="spacingAndGlyphs">20</text><line x1="390.18" y1="418.77" x2="392.48" y2="418.77" stroke="#000000" stroke-width="0.58"/><text class="tk" x="378.88" y="422.57" font-size="9.8" textLength="8.9" lengthAdjust="spacingAndGlyphs">40</text><line x1="390.18" y1="386.95" x2="392.48" y2="386.95" stroke="#000000" stroke-width="0.58"/><text class="tk" x="378.88" y="390.75" font-size="9.8" textLength="8.9" lengthAdjust="spacingAndGlyphs">60</text><line x1="390.18" y1="355.13" x2="392.48" y2="355.13" stroke="#000000" stroke-width="0.58"/><text class="tk" x="378.88" y="358.93" font-size="9.8" textLength="8.9" lengthAdjust="spacingAndGlyphs">80</text><line x1="390.18" y1="323.32" x2="392.48" y2="323.32" stroke="#000000" stroke-width="0.58"/><text class="tk" x="374.43" y="327.12" font-size="9.8" textLength="13.35" lengthAdjust="spacingAndGlyphs">100</text><line x1="390.18" y1="291.5" x2="392.48" y2="291.5" stroke="#000000" stroke-width="0.58"/><text class="tk" x="374.43" y="295.3" font-size="9.8" textLength="13.35" lengthAdjust="spacingAndGlyphs">120</text><line x1="405.68" y1="491.9" x2="405.68" y2="494.2" stroke="#000000" stroke-width="0.58"/><text class="tk" x="403.45" y="503.45" font-size="9.8" textLength="4.45" lengthAdjust="spacingAndGlyphs">0</text><line x1="450.03" y1="491.9" x2="450.03" y2="494.2" stroke="#000000" stroke-width="0.58"/><text class="tk" x="441.13" y="503.45" font-size="9.8" textLength="17.8" lengthAdjust="spacingAndGlyphs">5000</text><line x1="494.38" y1="491.9" x2="494.38" y2="494.2" stroke="#000000" stroke-width="0.58"/><text class="tk" x="483.25" y="503.45" font-size="9.8" textLength="22.25" lengthAdjust="spacingAndGlyphs">10000</text><line x1="538.73" y1="491.9" x2="538.73" y2="494.2" stroke="#000000" stroke-width="0.58"/><text class="tk" x="527.61" y="503.45" font-size="9.8" textLength="22.25" lengthAdjust="spacingAndGlyphs">15000</text><line x1="583.08" y1="491.9" x2="583.08" y2="494.2" stroke="#000000" stroke-width="0.58"/><text class="tk" x="571.96" y="503.45" font-size="9.8" textLength="22.25" lengthAdjust="spacingAndGlyphs">20000</text><line x1="627.43" y1="491.9" x2="627.43" y2="494.2" stroke="#000000" stroke-width="0.58"/><text class="tk" x="616.31" y="503.45" font-size="9.8" textLength="22.25" lengthAdjust="spacingAndGlyphs">25000</text><line x1="671.78" y1="491.9" x2="671.78" y2="494.2" stroke="#000000" stroke-width="0.58"/><text class="tk" x="660.65" y="503.45" font-size="9.8" textLength="22.25" lengthAdjust="spacingAndGlyphs">30000</text><text text-anchor="middle" transform="translate(538.49,514.2) scale(0.975,1)" font-size="9.8">Frame Number</text><text text-anchor="middle" transform="translate(369.88,386.75) rotate(-90) scale(0.975,1)" font-size="9.8">Number of molecules in clusters</text><text class="pl" transform="translate(350.1,280.9) scale(1.1,1)" font-size="12.1" font-weight="bold">d</text><rect x="568.6" y="342.75" width="110.7" height="87.4" rx="2" ry="2" fill="#ffffff" fill-opacity="0.8" stroke="#d4d4d4" stroke-width="0.8"/><text text-anchor="middle" transform="translate(624.05,355.15) scale(0.985,1)" font-size="12.2">Clusters with:</text><line x1="572" y1="365.85" x2="592.5" y2="365.85" stroke="#1f77b4" stroke-width="1.35"/><text transform="translate(599.9,369.35) scale(0.975,1)" font-size="9.8">1-6 molecules</text><line x1="572" y1="379.65" x2="592.5" y2="379.65" stroke="#ff7f0e" stroke-width="1.35"/><text transform="translate(599.9,383.15) scale(0.975,1)" font-size="9.8">7-30 molecules</text><line x1="572" y1="393.45" x2="592.5" y2="393.45" stroke="#2ca02c" stroke-width="1.35"/><text transform="translate(599.9,396.95) scale(0.975,1)" font-size="9.8">31-60 molecules</text><line x1="572" y1="407.25" x2="592.5" y2="407.25" stroke="#d62728" stroke-width="1.35"/><text transform="translate(599.9,410.75) scale(0.975,1)" font-size="9.8">61-84 molecules</text><line x1="572" y1="421.05" x2="592.5" y2="421.05" stroke="#000000" stroke-width="1.35"/><text transform="translate(599.9,424.55) scale(0.975,1)" font-size="9.8">85-120 molecules</text></g><g><clipPath id="clipe"><rect x="42.48" y="553.55" width="292.02" height="199.58"/></clipPath><g clip-path="url(#clipe)"><polyline points="55.5,739.2 55.5,744.9 55.78,744.9 55.78,744.76 56.32,744.76 56.32,746.58 56.85,746.58 56.85,746.8 57.1,746.8 57.35,746.8 57.35,746.58 59.35,746.58 59.35,746.2 59.6,746.2 60.3,744.6 61.2,746.2 62.5,748.1 62.74,748.1 62.74,748.4 63.23,748.4 63.23,750.21 64.21,750.21 64.21,748.4 66.65,748.4 66.65,748.1 66.9,748.1 67.11,748.1 67.11,748.4 67.57,748.4 67.57,746.58 68.95,746.58 68.95,746.5 69.2,746.5 69.43,746.5 69.43,746.58 75.25,746.58 75.25,746.5 75.5,746.5 77.1,748.1 78.1,745.5 79.3,744.6 79.55,744.6 79.55,744.76 81.05,744.76 81.05,745.5 81.3,745.5 82.5,746.5 82.72,746.5 82.72,746.58 83.68,746.58 83.68,748.4 84.15,748.4 84.15,748.1 84.4,748.1 84.63,748.1 84.63,748.4 89.95,748.4 89.95,748.1 90.2,748.1 90.9,749.6 92,748.3 92.24,748.3 92.24,748.4 101.15,748.4 101.15,748.3 101.4,748.3 102,746.7 103.1,748.3 104.3,749.6 105.5,748.3 105.76,748.3 105.76,748.4 120.95,748.4 120.95,748.3 121.2,748.3 121.4,748.3 121.4,748.4 122.75,748.4 122.75,749.6 123,749.6 123.32,749.6 123.32,750.21 124.45,750.21 124.45,749.6 124.7,749.6 125.4,741.5 125.9,741.5 126.4,750.2 128.5,750.2 129.7,747.9 130.8,750.2 131.51,750.21 131.51,748.4 132.47,748.4 132.47,752.03 132.95,752.03 132.95,751.4 133.2,751.4 133.41,751.4 133.41,752.03 133.87,752.03 133.87,750.21 135.5,750.2 136.7,748.5 137.8,747.9 138.5,740 138.72,740 138.72,739.31 141.05,739.31 141.05,739.4 141.3,739.4 141.5,746.4 141.8,739.4 142.1,739.4 142.1,739.31 143.75,739.31 143.75,739.4 144,739.4 145,740.4 145.22,740.4 145.22,741.12 146.65,741.12 146.65,740.4 146.9,740.4 147.6,741.7 148.6,742.1 148.9,752.3 150.1,753.85 150.88,753.85 150.88,752.03 152.43,752.03 152.43,750.21 152.95,750.21 152.95,750 153.2,750 153.47,750 153.47,750.21 157.65,750.21 157.65,750 157.9,750 158.9,742.7 159.9,744.4 160.8,746 161.12,746 161.12,746.58 162.25,746.58 162.25,746.4 162.5,746.4 162.75,746.4 162.75,746.58 164.25,746.58 164.25,746.4 164.5,746.4 164.75,746.4 164.75,746.58 165.75,746.58 165.75,748.4 166.25,748.4 166.25,748 166.5,748 167.8,749 169.1,750 169.35,750 169.35,750.21 172.85,750.21 172.85,750 173.1,750 174.1,751.7 174.42,751.7 174.42,752.03 174.98,752.03 174.98,753.85 175.8,753.85 180.05,753.85 180.05,752.03 182.05,752.03 182.05,753.85 182.8,753.85 183.4,751.4 184,753.85 189.2,753.85 190.4,746.1 190.6,746.1 190.6,744.76 191.95,744.76 191.95,743.8 192.2,743.8 192.43,743.8 192.43,742.94 194.85,742.94 194.85,743.8 195.1,743.8 195.31,743.8 195.31,742.94 197.15,742.94 197.15,742.6 197.4,742.6 197.61,742.6 197.61,742.94 199.45,742.94 199.45,742.6 199.7,742.6 199.9,742.6 199.9,742.94 200.8,742.94 200.8,741.12 201.25,741.12 201.25,741.5 201.5,741.5 202.3,743.1 202.53,743.1 202.53,742.94 203.97,742.94 203.97,744.76 204.45,744.76 204.45,744.3 204.7,744.3 205.02,744.3 205.02,742.94 206.15,742.94 206.15,742.6 206.4,742.6 206.67,742.6 206.67,742.94 210.85,742.94 210.85,742.6 211.1,742.6 211.7,744.3 212.02,744.3 212.02,744.76 212.58,744.76 212.58,742.94 213.15,742.94 213.15,743.1 213.4,743.1 213.6,743.1 213.6,742.94 214.05,742.94 214.05,744.76 214.95,744.76 214.95,746.1 215.2,746.1 215.52,746.1 215.52,744.76 216.65,744.76 216.65,744.3 216.9,744.3 217.15,744.3 217.15,744.76 220.15,744.76 220.15,744.3 220.4,744.3 221.6,735.5 222.8,740.2 223.4,743.7 224.5,740.2 224.73,740.2 224.73,739.31 227.15,739.31 227.15,740.2 227.4,740.2 228,746.6 229.1,746.58 229.1,748.4 229.55,748.4 229.55,747.8 229.8,747.8 230.9,744.9 231.16,744.9 231.16,744.76 234.25,744.76 234.25,744.9 234.5,744.9 235,738.5 236.2,737.3 236.8,744.3 237.05,744.3 237.05,744.76 240.05,744.76 240.05,744.3 240.3,744.3 240.62,744.3 240.62,741.12 241.18,741.12 241.18,739.31 241.75,739.31 241.75,735.5 242,735.5 242.23,735.5 242.23,735.67 244.15,735.67 244.15,736.1 244.4,736.1 244.61,736.1 244.61,735.67 246.45,735.67 246.45,735.5 246.7,735.5 246.91,735.5 246.91,735.67 248.75,735.67 248.75,735.5 249,735.5 249.6,749.6 249.83,749.6 249.83,750.21 250.31,750.21 250.31,748.4 252,748.4 253.59,748.4 253.59,746.58 254.05,746.58 254.05,747.2 254.3,747.2 254.51,747.2 254.51,746.58 255.89,746.58 255.89,744.76 256.35,744.76 256.35,744.9 256.6,744.9 256.83,744.9 256.83,744.76 257.31,744.76 257.31,746.58 258.75,746.58 258.75,747.2 259,747.2 259.26,747.2 259.26,746.58 260.29,746.58 260.29,744.76 260.8,744.76 260.8,746.58 262.34,746.58 262.34,748.4 262.85,748.4 262.85,747.8 263.1,747.8 263.42,747.8 263.42,746.58 264.55,746.58 264.55,746.1 264.8,746.1 265.06,746.1 265.06,746.58 268.65,746.58 268.65,746.1 268.9,746.1 270.1,739 270.33,739 270.33,739.31 271.78,739.31 271.78,737.49 272.75,737.49 272.75,737.9 273,737.9 273.21,737.9 273.21,737.49 275.05,737.49 275.05,737.9 275.3,737.9 276.5,739 276.75,739 276.75,739.31 282.75,739.31 282.75,739.1 283,739.1 283.6,743.1 283.81,743.1 283.81,744.76 285.19,744.76 285.19,742.94 285.65,742.94 285.65,743.1 285.9,743.1 286.5,740.8 287.7,742.6 288.3,749.6 288.62,749.6 288.62,750.21 289.75,750.21 289.75,749.6 290,749.6 291.2,741.4 292.4,748.4 293.17,748.4 293.17,746.58 294.2,746.58 294.2,744.76 294.71,744.76 294.71,746.58 295.23,746.58 295.23,744.76 296.25,744.76 296.25,743.22 296.5,743.22 296.75,743.22 296.75,741.12 297.75,741.12 297.75,739.31 299.25,739.31 299.25,741.12 300.25,741.12 300.25,741.4 300.5,741.4 301.1,748.4 301.7,740.2 302.9,737.9 304.1,748.4 304.6,737.9 305.8,748.4 306.4,739.1 306.61,739.1 306.61,739.31 308.45,739.31 308.45,739.1 308.7,739.1 309.9,737.3 310.16,737.3 310.16,737.49 310.67,737.49 310.67,739.31 312.73,739.31 312.73,737.49 313.75,737.49 313.75,737.3 314,737.3 314.32,737.3 314.32,737.49 315.45,737.49 315.45,736.7 315.7,736.7 315.9,736.7 315.9,735.67 317.25,735.67 317.25,736.1 317.5,736.1 318.6,734.4 320.2,733.8 321,739.1" fill="none" stroke="#1f77b4" stroke-width="1.3" stroke-linejoin="miter" stroke-miterlimit="2" stroke-linecap="butt"/><polyline points="55.3,753.85 56.6,753.85 57,729.9 57.4,753.85 57.7,731.8 67.3,731.8 67.6,753.85 68,731.8 68.5,753.85 68.9,731.8 70.1,731.8 70.1,753.85 70.5,731.8 70.9,753.85 71.3,731.8 71.7,753.85 72.1,731.8 72.5,753.85 72.9,731.8 73.3,753.85 73.7,731.8 74.1,753.85 74.5,731.8 75.2,753.85 80.3,753.85 80.8,715.3 81.3,715.3 81.9,753.85 85.1,753.85 85.3,717.2 85.7,753.85 86.1,717.2 86.5,753.85 86.9,717.2 87.3,753.85 87.7,717.2 87.9,753.85 88,717.3 129.1,717.5 130.3,718.9 133.2,718.9 133.8,717.5 135.5,718.1 136.7,718.9 139,719.3 139.6,720.2 143.3,720.6 144,723.2 144.6,720.9 149.9,720.9 150.3,753.85 150.8,720.9 151.3,753.85 151.8,720.9 152.3,753.85 154.3,753.85 154.9,720.9 155.5,720.9 155.9,753.85 157,753.85 157.5,721.6 158.2,720.9 158.9,715.3 159.5,718.6 163.2,718.9 163.5,753.85 164.8,753.85 165.5,718.6 166.1,717.6 167.1,717.6 167.5,715.3 168.1,717.2 199.2,717.5 199.7,711.7 200.3,717.5 204.1,717.4 204.7,715.1 205.3,717.4 227.4,717.4 228,711.6 229.8,710.1 233.9,708.9 235,715.1 235.6,709.3 236.2,717.4 237.4,710.1 240.9,710.1 242,718.6 246.1,718.6 246.7,717.4 247.3,718.6 248.5,718 249.6,704.6 250.5,717.4 252,718.6 253.1,719.2 254.3,721.3 292.2,721 292.4,713.4 292.8,753.85 293.3,721 293.8,753.85 294.3,721 294.8,753.85 295.3,721 295.8,753.85 296.4,721 300.8,721 301.5,711.6 303,722 305,711.6 306,721 307.3,721 307.5,753.85 308.5,721 309.7,753.85 310.5,721 311,753.85 312.4,721 319.6,721 320,717 320.5,721 321.5,721" fill="none" stroke="#ff7f0e" stroke-width="1.3" stroke-linejoin="miter" stroke-miterlimit="2" stroke-linecap="butt"/></g><polyline points="55.68,753.85 321.78,753.85" fill="none" stroke="#d62728" stroke-width="1.45" stroke-linejoin="miter" stroke-miterlimit="2" stroke-linecap="butt"/><polyline points="55.2,571 55.8,577.5 56.2,571 56.6,567.9 56.6,591.7 56.89,591.7 56.89,592.05 59.05,592.05 59.05,591.7 59.3,591.7 60.3,593.4 61.3,592.4 62.6,589.8 62.86,589.8 62.86,590.23 66.95,590.23 66.95,589.8 67.2,589.8 67.9,569.9 68.2,591.5 68.52,591.5 68.52,592.05 69.65,592.05 69.65,591.5 69.9,591.5 70,569.9 70.3,592.1 70.7,569.5 71.1,592.1 71.5,569 71.9,592.1 72.3,568.6 72.7,592.1 73.1,569 73.5,592.1 73.9,569.5 74.3,592.1 74.8,569.9 75.05,569.9 75.05,570.23 75.55,570.23 75.55,568.41 76.55,568.41 76.55,568.5 76.8,568.5 78.1,570.9 79.1,572.2 80.4,570.6 81,570.6 81.1,608.6 81.3,570.6 82.1,570.6 82.38,570.6 82.38,570.23 83.45,570.23 83.45,569.9 83.7,569.9 84.7,568.5 86,568.5 86.2,604.3 86.6,568.5 86.9,604.3 87.3,568.5 87.6,604.3 88,568.5 88,604.3 88.23,604.3 88.23,604.77 90.65,604.77 90.65,604.3 90.9,604.3 91.7,602.5 92.7,604.6 92.94,604.6 92.94,604.77 100.85,604.77 100.85,604.6 101.1,604.6 102.1,606.1 103.1,604.6 103.38,604.6 103.38,604.77 103.92,604.77 103.92,602.96 104.45,602.96 104.45,602.5 104.7,602.5 105.7,604.6 105.95,604.6 105.95,604.77 120.85,604.77 120.85,604.6 121.1,604.6 122.2,602.5 122.45,602.5 122.45,602.96 124.95,602.96 124.95,602.5 125.2,602.5 126.2,611.7 127.1,603 129.55,602.96 129.55,602.5 129.8,602.5 130.8,600.5 131.07,600.5 131.07,601.14 136.75,601.14 136.75,600.5 137,600.5 138,602 139,602.5 139.5,609.5 139.72,609.5 139.72,610.23 141.15,610.23 141.15,609.5 141.4,609.5 142,602.3 142.5,609.5 143.9,609.5 144.3,608.4 147.1,608.4 147.8,606.6 148.9,606.6 149.1,595.2 150.2,595.2 150.4,562.8 150.7,595.2 151,562.8 152.5,562.8 152.7,566.3 152.98,566.3 152.98,566.6 154.05,566.6 154.05,566.3 154.3,566.3 155,599.5 155.5,566.3 157.1,566.3 157.8,603 158.5,605.9 158.7,605.9 158.7,606.59 160.05,606.59 160.05,606.2 160.3,606.2 161.4,604.8 163.5,604.8 163.7,569.9 163.91,569.9 163.91,570.23 165.75,570.23 165.75,569.9 166,569.9 166.4,604.5 166.6,604.5 166.6,604.77 167.95,604.77 167.95,604.5 168.2,604.5 169.2,602.7 169.45,602.7 169.45,602.96 171.45,602.96 171.45,601.14 172.45,601.14 172.45,602.96 173.95,602.96 173.95,602.7 174.2,602.7 174.9,599.5 175.15,599.5 175.15,599.32 182.15,599.32 182.15,598.9 182.4,598.9 183.5,600.5 184.6,599 184.86,599 184.86,599.32 189.45,599.32 189.45,599 189.7,599 190.2,606.3 191.2,606.3 192.1,609.9 192.8,607.9 193.05,607.9 193.05,608.41 195.3,608.4 196.3,610.2 200.4,610.2 201.3,612 202,610.2 211.2,610.2 211.7,608.4 212.7,610.2 213.7,609.9 213.92,609.9 213.92,608.41 214.88,608.41 214.88,606.59 215.35,606.59 215.35,606.1 215.6,606.1 215.92,606.1 215.92,606.59 216.48,606.59 216.48,608.41 217.3,608.4 220.4,608.4 221.1,617.1 221.6,608.5 222.1,617.1 222.4,608.9 223.4,608.4 224.5,611.5 225.5,612 230.1,612 231.1,613.5 231.35,613.5 231.35,613.86 232.85,613.86 232.85,613.7 233.1,613.7 234.2,615 234.46,615 234.46,615.68 243.15,615.68 243.15,615 243.4,615 244.4,613.3 245.4,615 245.63,615 245.63,615.68 249.45,615.68 249.45,615.1 249.7,615.1 250.3,602.3 250.57,602.3 250.57,604.77 252.65,604.77 252.65,602.96 255.25,602.96 255.25,602.3 255.5,602.3 256.7,604.6 257.8,602.9 258,602.9 258,602.96 258.45,602.96 258.45,601.14 259.6,601.1 260.8,600.3 261.03,600.3 261.03,601.14 263.45,601.14 263.45,600.3 263.7,600.3 264.9,602.3 265.16,602.3 265.16,602.96 269.25,602.96 269.25,602.3 269.5,602.3 269.8,609.9 270.07,609.9 270.07,610.23 272.15,610.23 272.15,610.5 272.4,610.5 273.6,612.2 273.83,612.2 273.83,612.05 274.79,612.05 274.79,610.23 275.75,610.23 275.75,609.9 276,609.9 276.25,609.9 276.25,610.23 282.75,610.23 282.75,610.5 283,610.5 283.4,606.6 285.9,606.6 286.9,608.3 287.6,606.9 288.3,599.1 289.4,599.1 290.1,600.9 291.6,600.9 292,608.3 292.3,575.5 292.6,608.3 293,568.1 293.4,568.1 293.7,575.5 294,608.3 294.4,575.5 294.8,608.3 295.2,575.5 295.6,608.3 296,575.5 296.5,575.5 296.5,608.3 296.75,608.3 296.75,608.41 300.25,608.41 300.25,608.3 300.5,608.3 301.5,610.1 303,610.1 303.7,608.3 304.4,609.8 305.5,600.9 305.9,609.8 306.4,600.9 306.8,609.8 307.4,609.8 308,577.3 308.6,577.3 308.8,609.8 309.7,611.2 311.2,611.2 311.5,579.1 312.4,579.1 312.8,611.2 313.7,611.9 314.05,753.6 314.4,611.9 315.1,611.6 316.5,611.6 317.9,613.3 318.1,613.3 318.1,613.86 319.45,613.86 319.45,615.1 319.7,615.1 320.4,615.1 321.5,609.8" fill="none" stroke="#000000" stroke-width="1.3" stroke-linejoin="miter" stroke-miterlimit="2" stroke-linecap="butt"/><rect x="42.48" y="553.55" width="292.02" height="209.88" fill="none" stroke="#000000" stroke-width="0.58"/><line x1="40.18" y1="753.6" x2="42.48" y2="753.6" stroke="#000000" stroke-width="0.58"/><text class="tk" x="33.33" y="757.4" font-size="9.8" textLength="4.45" lengthAdjust="spacingAndGlyphs">0</text><line x1="40.18" y1="717.24" x2="42.48" y2="717.24" stroke="#000000" stroke-width="0.58"/><text class="tk" x="28.88" y="721.04" font-size="9.8" textLength="8.9" lengthAdjust="spacingAndGlyphs">20</text><line x1="40.18" y1="680.88" x2="42.48" y2="680.88" stroke="#000000" stroke-width="0.58"/><text class="tk" x="28.88" y="684.68" font-size="9.8" textLength="8.9" lengthAdjust="spacingAndGlyphs">40</text><line x1="40.18" y1="644.52" x2="42.48" y2="644.52" stroke="#000000" stroke-width="0.58"/><text class="tk" x="28.88" y="648.32" font-size="9.8" textLength="8.9" lengthAdjust="spacingAndGlyphs">60</text><line x1="40.18" y1="608.16" x2="42.48" y2="608.16" stroke="#000000" stroke-width="0.58"/><text class="tk" x="28.88" y="611.96" font-size="9.8" textLength="8.9" lengthAdjust="spacingAndGlyphs">80</text><line x1="40.18" y1="571.8" x2="42.48" y2="571.8" stroke="#000000" stroke-width="0.58"/><text class="tk" x="24.43" y="575.6" font-size="9.8" textLength="13.35" lengthAdjust="spacingAndGlyphs">100</text><line x1="55.68" y1="763.43" x2="55.68" y2="765.73" stroke="#000000" stroke-width="0.58"/><text class="tk" x="53.45" y="774.98" font-size="9.8" textLength="4.45" lengthAdjust="spacingAndGlyphs">0</text><line x1="100.03" y1="763.43" x2="100.03" y2="765.73" stroke="#000000" stroke-width="0.58"/><text class="tk" x="91.13" y="774.98" font-size="9.8" textLength="17.8" lengthAdjust="spacingAndGlyphs">5000</text><line x1="144.38" y1="763.43" x2="144.38" y2="765.73" stroke="#000000" stroke-width="0.58"/><text class="tk" x="133.25" y="774.98" font-size="9.8" textLength="22.25" lengthAdjust="spacingAndGlyphs">10000</text><line x1="188.73" y1="763.43" x2="188.73" y2="765.73" stroke="#000000" stroke-width="0.58"/><text class="tk" x="177.61" y="774.98" font-size="9.8" textLength="22.25" lengthAdjust="spacingAndGlyphs">15000</text><line x1="233.08" y1="763.43" x2="233.08" y2="765.73" stroke="#000000" stroke-width="0.58"/><text class="tk" x="221.96" y="774.98" font-size="9.8" textLength="22.25" lengthAdjust="spacingAndGlyphs">20000</text><line x1="277.43" y1="763.43" x2="277.43" y2="765.73" stroke="#000000" stroke-width="0.58"/><text class="tk" x="266.31" y="774.98" font-size="9.8" textLength="22.25" lengthAdjust="spacingAndGlyphs">25000</text><line x1="321.78" y1="763.43" x2="321.78" y2="765.73" stroke="#000000" stroke-width="0.58"/><text class="tk" x="310.66" y="774.98" font-size="9.8" textLength="22.25" lengthAdjust="spacingAndGlyphs">30000</text><text text-anchor="middle" transform="translate(188.49,785.73) scale(0.975,1)" font-size="9.8">Frame Number</text><text text-anchor="middle" transform="translate(19.88,658.49) rotate(-90) scale(0.975,1)" font-size="9.8">Number of molecules in clusters</text><text class="pl" transform="translate(-0.6,552.35) scale(1.1,1)" font-size="12.1" font-weight="bold">e</text><rect x="46.98" y="614.49" width="110.7" height="87.4" rx="2" ry="2" fill="#ffffff" fill-opacity="0.8" stroke="#d4d4d4" stroke-width="0.8"/><text text-anchor="middle" transform="translate(102.43,626.89) scale(0.985,1)" font-size="12.2">Clusters with:</text><line x1="50.38" y1="637.59" x2="70.88" y2="637.59" stroke="#1f77b4" stroke-width="1.35"/><text transform="translate(78.28,641.09) scale(0.975,1)" font-size="9.8">1-6 molecules</text><line x1="50.38" y1="651.39" x2="70.88" y2="651.39" stroke="#ff7f0e" stroke-width="1.35"/><text transform="translate(78.28,654.89) scale(0.975,1)" font-size="9.8">7-26 molecules</text><line x1="50.38" y1="665.19" x2="70.88" y2="665.19" stroke="#2ca02c" stroke-width="1.35"/><text transform="translate(78.28,668.69) scale(0.975,1)" font-size="9.8">27-52 molecules</text><line x1="50.38" y1="678.99" x2="70.88" y2="678.99" stroke="#d62728" stroke-width="1.35"/><text transform="translate(78.28,682.49) scale(0.975,1)" font-size="9.8">53-73 molecules</text><line x1="50.38" y1="692.79" x2="70.88" y2="692.79" stroke="#000000" stroke-width="1.35"/><text transform="translate(78.28,696.29) scale(0.975,1)" font-size="9.8">74-105 molecules</text></g><g><clipPath id="clipf"><rect x="392.48" y="553.55" width="292.02" height="199.58"/></clipPath><g clip-path="url(#clipf)"><polyline points="405.2,753.85 415.3,753.85 415.3,752.4 416.3,751.3 416.57,751.3 416.57,751.94 422.25,751.94 422.25,751.3 422.5,751.3 423.5,749.7 423.77,749.7 423.77,750.03 426.35,750.03 426.35,750.9 426.6,750.9 426.85,750.9 426.85,750.03 427.85,750.03 427.85,748.12 428.35,748.12 428.35,748.3 428.6,748.3 428.86,748.3 428.86,748.12 436.55,748.12 436.55,748.3 436.8,748.3 437.8,749.7 438.06,749.7 438.06,750.03 438.57,750.03 438.57,748.12 439.6,748.12 439.6,750.03 441.65,750.03 441.65,749.3 441.9,749.3 443.3,744.2 443.59,744.2 443.59,744.3 445.75,744.3 445.75,744.8 446,744.8 447.4,748.3 447.69,748.3 447.69,748.12 448.77,748.12 448.77,750.03 449.85,750.03 449.85,748.3 450.1,748.3 450.35,748.3 450.35,748.12 451.35,748.12 451.35,750.03 451.85,750.03 451.85,749.7 452.1,749.7 452.38,749.7 452.38,750.03 452.9,750.03 452.9,748.12 453.95,748.12 453.95,748.3 454.2,748.3 454.45,748.3 454.45,748.12 457.45,748.12 457.45,750.03 457.95,750.03 457.95,749.3 458.2,749.3 459.3,751.3 459.56,751.3 459.56,751.94 467.15,751.94 467.15,751.3 467.4,751.3 467.67,751.3 467.67,750.03 469.73,750.03 469.73,748.12 470.25,748.12 470.25,748.3 470.5,748.3 470.77,748.3 470.77,748.12 471.3,748.12 471.3,746.21 472.35,746.21 472.35,745.2 472.6,745.2 472.85,745.2 472.85,746.21 475.6,746.2 478.45,746.21 478.45,745.2 478.7,745.2 478.96,745.2 478.96,744.3 479.46,744.3 479.46,746.21 485.55,746.21 485.55,745.6 485.8,745.6 486.07,745.6 486.07,746.21 486.6,746.21 486.6,748.12 487.65,748.12 487.65,748.9 487.9,748.9 488.15,748.9 488.15,748.12 490.65,748.12 490.65,746.2 490.9,746.2 491.7,746.21 491.7,748.12 492.75,748.12 492.75,749.3 493,749.3 493.25,749.3 493.25,748.12 494.75,748.12 494.75,747.7 495,747.7 495.27,747.7 495.27,748.12 495.78,748.12 495.78,746.21 496.3,746.21 496.3,744.3 497.33,744.3 497.33,746.21 497.85,746.21 497.85,745.6 498.1,745.6 498.37,745.6 498.37,746.21 498.88,746.21 498.88,744.3 500.95,744.3 500.95,744.2 501.2,744.2 501.45,744.2 501.45,744.3 502.45,744.3 502.45,746.21 503.2,746.2 503.95,746.21 503.95,744.3 504.95,744.3 504.95,742.8 505.2,742.8 505.47,742.8 505.47,742.38 511.15,742.38 511.15,742.8 511.4,742.8 511.65,742.8 511.65,742.38 512.15,742.38 512.15,744.3 514.15,744.3 514.15,745.2 514.4,745.2 514.67,745.2 514.67,746.21 519.6,746.2 522.6,746.2 523.4,746.21 523.4,748.12 524.45,748.12 524.45,749.7 524.7,749.7 524.95,749.7 524.95,750.03 537.95,750.03 537.95,751.94 538.95,751.94 538.95,750.03 541.95,750.03 541.95,749.7 542.2,749.7 543.2,746.2 545.2,746.2 546.2,748.9 546.47,748.9 546.47,748.12 546.98,748.12 546.98,750.03 549.05,750.03 549.05,749.7 549.3,749.7 549.56,749.7 549.56,750.03 557.25,750.03 557.25,749.7 557.5,749.7 558.5,751.3 558.76,751.3 558.76,751.94 559.27,751.94 559.27,750.03 560.28,750.03 560.28,751.94 563.33,751.94 563.33,750.03 564.35,750.03 564.35,750.9 564.6,750.9 565.7,749.7 565.96,749.7 565.96,750.03 570.55,750.03 570.55,749.7 570.8,749.7 571.8,747.7 572.8,751.3 573.06,751.3 573.06,751.94 573.57,751.94 573.57,753.85 575.11,753.85 575.11,751.94 576.65,751.94 576.65,751.3 576.9,751.3 577.15,751.3 577.15,750.03 578.65,750.03 578.65,749.3 578.9,749.3 579.17,749.3 579.17,748.12 580.75,748.12 580.75,747.7 581,747.7 581.25,747.7 581.25,748.12 582.75,748.12 582.75,749.3 583,749.3 583.27,749.3 583.27,750.03 584.85,750.03 584.85,751.3 585.1,751.3 585.36,751.3 585.36,751.94 597.05,751.94 597.05,751.3 597.3,751.3 597.57,751.3 597.57,750.03 598.62,750.03 598.62,748.12 599.15,748.12 599.15,747.7 599.4,747.7 599.65,747.7 599.65,746.21 600.15,746.21 600.15,744.3 600.65,744.3 600.65,742.38 601.15,742.38 601.15,740.1 601.4,740.1 601.67,740.1 601.67,740.47 602.7,740.47 602.7,738.56 604.25,738.56 604.25,738.7 604.5,738.7 604.75,738.7 604.75,740.47 606.25,740.47 606.25,742.2 606.5,742.2 606.77,742.2 606.77,740.47 608.35,740.47 608.35,743.2 608.6,743.2 608.85,743.2 608.85,742.38 611.35,742.38 611.35,742.8 611.6,742.8 611.88,742.8 611.88,742.38 612.4,742.38 612.4,744.3 613.45,744.3 613.45,744.8 613.7,744.8 613.95,744.8 613.95,746.21 615.45,746.21 615.45,746.9 615.7,746.9 615.97,746.9 615.97,746.21 616.48,746.21 616.48,748.12 618.55,748.12 618.55,747.7 618.8,747.7 619.05,747.7 619.05,748.12 619.55,748.12 619.55,750.03 620.05,750.03 620.05,748.12 620.55,748.12 620.55,746.9 620.8,746.9 621.07,746.9 621.07,746.21 622.12,746.21 622.12,744.3 622.65,744.3 622.65,744.2 622.9,744.2 623.16,744.2 623.16,744.3 629.75,744.3 629.75,744.2 630,744.2 630.27,744.2 630.27,744.3 631.33,744.3 631.33,742.38 631.85,742.38 631.85,742.8 632.1,742.8 632.36,742.8 632.36,742.38 635.95,742.38 635.95,742.8 636.2,742.8 636.45,742.8 636.45,742.38 636.95,742.38 636.95,744.3 637.95,744.3 637.95,744.8 638.2,744.8 638.47,744.8 638.47,744.3 638.98,744.3 638.98,746.21 641.05,746.21 641.05,747.3 641.3,747.3 641.56,747.3 641.56,748.12 644.12,748.12 644.12,750.03 645.15,750.03 645.15,749.7 645.4,749.7 645.66,749.7 645.66,750.03 657.35,750.03 657.35,749.7 657.6,749.7 658.6,744.2 658.88,744.2 658.88,744.3 660.45,744.3 660.45,744.2 660.7,744.2 661.7,749.7 661.96,749.7 661.96,750.03 669.65,750.03 669.65,749.7 669.9,749.7 670.18,749.7 670.18,750.03 671.25,750.03 671.25,751.3 671.5,751.3" fill="none" stroke="#1f77b4" stroke-width="1.3" stroke-linejoin="miter" stroke-miterlimit="2" stroke-linecap="butt"/></g><polyline points="405.68,753.85 671.78,753.85" fill="none" stroke="#d62728" stroke-width="1.45" stroke-linejoin="miter" stroke-miterlimit="2" stroke-linecap="butt"/><polyline points="405.2,562.4 405.46,562.4 405.46,562.75 406.97,562.75 406.97,564.66 407.98,564.66 407.98,562.75 410,562.75 410,560.84 411.01,560.84 411.01,562.75 414.55,562.75 414.55,562.4 414.8,562.4 415.7,564.5 415.95,564.5 415.95,564.66 422.45,564.66 422.45,564.5 422.7,564.5 423.6,566.3 424.5,564.5 424.77,564.5 424.77,564.66 426.85,564.66 426.85,564.5 427.1,564.5 427.42,564.5 427.42,562.75 427.98,562.75 427.98,564.66 428.55,564.66 428.55,565.29 428.8,565.29 429,565.29 429,566.57 430.6,566.6 431.48,566.57 431.48,568.48 432.05,568.48 432.05,568.4 432.3,568.4 432.53,568.4 432.53,568.48 434.46,568.48 434.46,570.39 435.9,570.39 435.9,568.48 437.35,568.48 437.35,568.4 437.6,568.4 438.5,566.6 441.1,566.6 441.3,566.6 441.3,568.48 442.2,568.48 442.2,570.39 442.65,570.39 442.65,571.5 442.9,571.5 443.17,571.5 443.17,572.31 445.25,572.31 445.25,571.5 445.5,571.5 445.82,571.5 445.82,570.39 446.38,570.39 446.38,568.48 446.95,568.48 446.95,568.4 447.2,568.4 447.4,568.4 447.4,568.48 448.75,568.48 448.75,568.4 449,568.4 449.32,568.4 449.32,568.48 449.88,568.48 449.88,566.57 450.7,566.6 452.07,566.57 452.07,568.48 453.15,568.48 453.15,568.4 453.4,568.4 453.72,568.4 453.72,568.48 454.28,568.48 454.28,566.57 455.1,566.6 457.55,566.57 457.55,567.7 457.8,567.7 458.6,564.5 458.84,564.5 458.84,564.66 462.76,564.66 462.76,562.75 463.73,562.75 463.73,564.66 467.65,564.66 467.65,564.6 467.9,564.6 468.22,564.6 468.22,564.66 468.78,564.66 468.78,566.57 469.35,566.57 469.35,566.4 469.6,566.4 469.85,566.4 469.85,566.57 470.85,566.57 470.85,568.48 472.85,568.48 472.85,569.9 473.1,569.9 473.3,569.9 473.3,570.39 474.2,570.39 474.2,572.31 474.65,572.31 474.65,572.2 474.9,572.2 475.22,572.2 475.22,570.39 476.35,570.39 476.35,568.7 476.6,568.7 476.89,568.7 476.89,568.48 477.97,568.48 477.97,570.39 479.3,570.4 484.5,570.4 485.6,570.39 485.6,568.48 486.05,568.48 486.05,568.7 486.3,568.7 486.62,568.7 486.62,568.48 487.75,568.48 487.75,568.1 488,568.1 488.2,568.1 488.2,568.48 489.1,568.48 489.1,570.39 489.8,570.4 492.15,570.39 492.15,569.9 492.4,569.9 493.3,566.9 493.57,566.9 493.57,566.57 494.61,566.57 494.61,568.48 495.65,568.48 495.65,568.1 495.9,568.1 496.17,568.1 496.17,568.48 497.73,568.48 497.73,570.39 498.25,570.39 498.25,569.9 498.5,569.9 498.7,569.9 498.7,570.39 500.05,570.39 500.05,571.6 500.3,571.6 500.57,571.6 500.57,570.39 502.65,570.39 502.65,569 502.9,569 503.19,569 503.19,570.39 504.27,570.39 504.27,572.31 505.35,572.31 505.35,573.4 505.6,573.4 505.87,573.4 505.87,574.22 510.55,574.22 510.55,573.9 510.8,573.9 511,573.9 511,574.22 511.45,574.22 511.45,572.31 512.35,572.31 512.35,572.2 512.6,572.2 512.87,572.2 512.87,572.31 513.91,572.31 513.91,570.39 515.2,570.4 516.51,570.39 516.51,568.48 517.55,568.48 517.55,568.7 517.8,568.7 518.07,568.7 518.07,568.48 519.11,568.48 519.11,570.39 520.4,570.4 521.95,570.39 521.95,569.4 522.2,569.4 522.47,569.4 522.47,568.48 524.03,568.48 524.03,566.57 524.55,566.57 524.55,566.9 524.8,566.9 525.05,566.9 525.05,566.57 534.05,566.57 534.05,568.48 535.05,568.48 535.05,566.57 542.05,566.57 542.05,566.9 542.3,566.9 542.7,570.4 544.32,570.39 544.32,572.3 545.5,572.31 546.7,567.6 546.97,567.6 546.97,566.57 549.05,566.57 549.05,566.9 549.3,566.9 549.54,566.9 549.54,566.57 556.95,566.57 556.95,566.9 557.2,566.9 558.1,565.2 558.35,565.2 558.35,564.66 564.85,564.66 564.85,565.5 565.1,565.5 565.3,565.5 565.3,566.57 566.65,566.57 566.65,566.9 566.9,566.9 567.13,566.9 567.13,566.57 570.95,566.57 570.95,566.9 571.2,566.9 572.1,568.7 573,565.2 573.24,565.2 573.24,564.66 577.15,564.66 577.15,565 577.4,565 578.2,566.6 579.8,565.4 580.08,565.4 580.08,566.57 581.15,566.57 581.15,568.2 581.4,568.2 581.68,568.2 581.68,568.48 582.22,568.48 582.22,566.57 583,566.6 583.82,566.57 583.82,564.66 584.35,564.66 584.35,564.6 584.6,564.6 584.86,564.6 584.86,564.66 598.05,564.66 598.05,564.6 598.3,564.6 598.53,564.6 598.53,564.66 599.01,564.66 599.01,566.57 599.97,566.57 599.97,568.48 600.45,568.48 600.45,568.7 600.7,568.7 601.5,575.9 601.73,575.9 601.73,576.13 603.17,576.13 603.17,578.04 603.65,578.04 603.65,577.5 603.9,577.5 604.18,577.5 604.18,576.13 605.25,576.13 605.25,574.6 605.5,574.6 605.78,574.6 605.78,574.22 606.85,574.22 606.85,573.5 607.1,573.5 607.38,573.5 607.38,572.31 608.7,572.3 610.3,574 610.58,574 610.58,572.31 611.65,572.31 611.65,571.1 611.9,571.1 612.18,571.1 612.18,572.31 613.25,572.31 613.25,574 613.5,574 613.78,574 613.78,572.31 614.85,572.31 614.85,570.3 615.1,570.3 615.42,570.3 615.42,570.39 615.98,570.39 615.98,568.48 616.55,568.48 616.55,568.7 616.8,568.7 617.08,568.7 617.08,568.48 617.62,568.48 617.62,570.39 618.15,570.39 618.15,570.3 618.4,570.3 618.68,570.3 618.68,570.39 619.22,570.39 619.22,568.48 619.75,568.48 619.75,568.7 620,568.7 620.28,568.7 620.28,568.48 621.35,568.48 621.35,568.7 621.6,568.7 622.4,571.9 622.64,571.9 622.64,572.31 628.55,572.31 628.55,571.9 628.8,571.9 629.6,574.3 630.4,572.3 632,572.3 632.8,574.3 633.03,574.3 633.03,574.22 634.95,574.22 634.95,574.3 635.2,574.3 636.8,572.3 638.15,572.31 638.15,571.4 638.4,571.4 638.68,571.4 638.68,570.39 639.75,570.39 639.75,569.1 640,569.1 640.28,569.1 640.28,568.48 641.35,568.48 641.35,568.2 641.6,568.2 641.85,568.2 641.85,568.48 643.85,568.48 643.85,568.2 644.1,568.2 645.3,566.6 646.55,566.57 646.55,568.48 647.05,568.48 647.05,568.2 647.3,568.2 647.56,568.2 647.56,568.48 648.58,568.48 648.58,570.39 650.1,570.39 650.1,568.48 652.65,568.48 652.65,568.2 652.9,568.2 653.7,566.6 657.7,566.6 658.2,572.3 660.9,572.3 661.4,566.6 668.9,566.6 669.8,565.9 670.08,565.9 670.08,564.66 671.15,564.66 671.15,564.6 671.4,564.6" fill="none" stroke="#000000" stroke-width="1.3" stroke-linejoin="miter" stroke-miterlimit="2" stroke-linecap="butt"/><rect x="392.48" y="553.55" width="292.02" height="209.88" fill="none" stroke="#000000" stroke-width="0.58"/><line x1="390.18" y1="753.6" x2="392.48" y2="753.6" stroke="#000000" stroke-width="0.58"/><text class="tk" x="383.33" y="757.4" font-size="9.8" textLength="4.45" lengthAdjust="spacingAndGlyphs">0</text><line x1="390.18" y1="715.38" x2="392.48" y2="715.38" stroke="#000000" stroke-width="0.58"/><text class="tk" x="378.88" y="719.18" font-size="9.8" textLength="8.9" lengthAdjust="spacingAndGlyphs">20</text><line x1="390.18" y1="677.16" x2="392.48" y2="677.16" stroke="#000000" stroke-width="0.58"/><text class="tk" x="378.88" y="680.96" font-size="9.8" textLength="8.9" lengthAdjust="spacingAndGlyphs">40</text><line x1="390.18" y1="638.94" x2="392.48" y2="638.94" stroke="#000000" stroke-width="0.58"/><text class="tk" x="378.88" y="642.74" font-size="9.8" textLength="8.9" lengthAdjust="spacingAndGlyphs">60</text><line x1="390.18" y1="600.72" x2="392.48" y2="600.72" stroke="#000000" stroke-width="0.58"/><text class="tk" x="378.88" y="604.52" font-size="9.8" textLength="8.9" lengthAdjust="spacingAndGlyphs">80</text><line x1="390.18" y1="562.5" x2="392.48" y2="562.5" stroke="#000000" stroke-width="0.58"/><text class="tk" x="374.43" y="566.3" font-size="9.8" textLength="13.35" lengthAdjust="spacingAndGlyphs">100</text><line x1="405.68" y1="763.43" x2="405.68" y2="765.73" stroke="#000000" stroke-width="0.58"/><text class="tk" x="403.45" y="774.98" font-size="9.8" textLength="4.45" lengthAdjust="spacingAndGlyphs">0</text><line x1="450.03" y1="763.43" x2="450.03" y2="765.73" stroke="#000000" stroke-width="0.58"/><text class="tk" x="441.13" y="774.98" font-size="9.8" textLength="17.8" lengthAdjust="spacingAndGlyphs">5000</text><line x1="494.38" y1="763.43" x2="494.38" y2="765.73" stroke="#000000" stroke-width="0.58"/><text class="tk" x="483.25" y="774.98" font-size="9.8" textLength="22.25" lengthAdjust="spacingAndGlyphs">10000</text><line x1="538.73" y1="763.43" x2="538.73" y2="765.73" stroke="#000000" stroke-width="0.58"/><text class="tk" x="527.61" y="774.98" font-size="9.8" textLength="22.25" lengthAdjust="spacingAndGlyphs">15000</text><line x1="583.08" y1="763.43" x2="583.08" y2="765.73" stroke="#000000" stroke-width="0.58"/><text class="tk" x="571.96" y="774.98" font-size="9.8" textLength="22.25" lengthAdjust="spacingAndGlyphs">20000</text><line x1="627.43" y1="763.43" x2="627.43" y2="765.73" stroke="#000000" stroke-width="0.58"/><text class="tk" x="616.31" y="774.98" font-size="9.8" textLength="22.25" lengthAdjust="spacingAndGlyphs">25000</text><line x1="671.78" y1="763.43" x2="671.78" y2="765.73" stroke="#000000" stroke-width="0.58"/><text class="tk" x="660.65" y="774.98" font-size="9.8" textLength="22.25" lengthAdjust="spacingAndGlyphs">30000</text><text text-anchor="middle" transform="translate(538.49,785.73) scale(0.975,1)" font-size="9.8">Frame Number</text><text text-anchor="middle" transform="translate(369.88,658.49) rotate(-90) scale(0.975,1)" font-size="9.8">Number of molecules in clusters</text><text class="pl" transform="translate(350.1,552.35) scale(1.1,1)" font-size="12.1" font-weight="bold">f</text><rect x="568.6" y="614.49" width="110.7" height="87.4" rx="2" ry="2" fill="#ffffff" fill-opacity="0.8" stroke="#d4d4d4" stroke-width="0.8"/><text text-anchor="middle" transform="translate(624.05,626.89) scale(0.985,1)" font-size="12.2">Clusters with:</text><line x1="572" y1="637.59" x2="592.5" y2="637.59" stroke="#1f77b4" stroke-width="1.35"/><text transform="translate(599.9,641.09) scale(0.975,1)" font-size="9.8">1-6 molecules</text><line x1="572" y1="651.39" x2="592.5" y2="651.39" stroke="#ff7f0e" stroke-width="1.35"/><text transform="translate(599.9,654.89) scale(0.975,1)" font-size="9.8">7-25 molecules</text><line x1="572" y1="665.19" x2="592.5" y2="665.19" stroke="#2ca02c" stroke-width="1.35"/><text transform="translate(599.9,668.69) scale(0.975,1)" font-size="9.8">26-50 molecules</text><line x1="572" y1="678.99" x2="592.5" y2="678.99" stroke="#d62728" stroke-width="1.35"/><text transform="translate(599.9,682.49) scale(0.975,1)" font-size="9.8">51-70 molecules</text><line x1="572" y1="692.79" x2="592.5" y2="692.79" stroke="#000000" stroke-width="1.35"/><text transform="translate(599.9,696.29) scale(0.975,1)" font-size="9.8">71-100 molecules</text></g>
</svg>
</body></html>
